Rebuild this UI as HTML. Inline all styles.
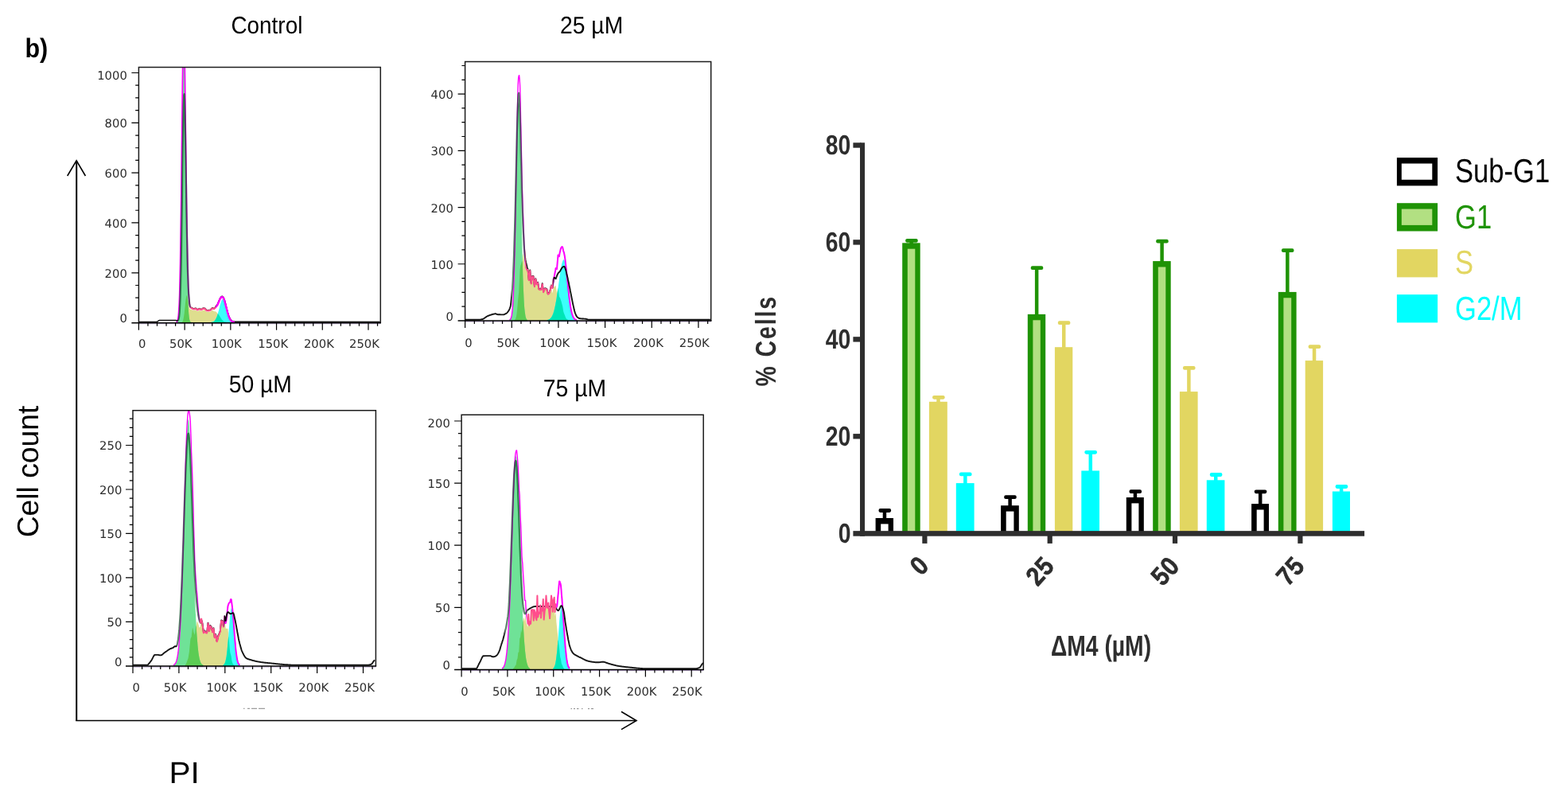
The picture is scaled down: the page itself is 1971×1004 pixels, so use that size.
<!DOCTYPE html>
<html lang="en"><head><meta charset="utf-8"><title>Cell cycle analysis</title>
<style>
html,body{margin:0;padding:0;background:#fff;}
body{width:1971px;height:1004px;overflow:hidden;}
svg{display:block;}
</style></head><body>
<svg width="1971" height="1004" viewBox="0 0 1971 1004" text-rendering="geometricPrecision">
<rect width="1971" height="1004" fill="#fff"/>
<clipPath id="c1"><rect x="174.4" y="84.6" width="303.9" height="321.8"/></clipPath>
<clipPath id="s1"><rect x="239.62" y="84.6" width="31.75" height="320.4"/></clipPath>
<clipPath id="n1"><rect x="174.4" y="84.6" width="65.22" height="321.4"/><rect x="271.37" y="84.6" width="206.93" height="321.4"/></clipPath>
<g clip-path="url(#c1)">
<path d="M228.4 404.9L228.9 404.7L229.3 404.2L229.8 403.4L230.3 402L230.7 399.9L231.2 396.9L231.7 393.4L232.1 389.5L232.6 384.9L233 380.5L233.5 376.6L234 373.6L234.4 371.3L234.9 371.6L235.4 373.1L235.8 375.4L236.3 378L236.7 380.8L237.2 383L237.7 385L238.1 386.8L238.6 388L239 388.6L239.5 388.8L240 389L240.4 389.1L240.9 389.2L241.4 389.3L241.8 389.6L242.3 389.8L242.7 390L243.2 390.1L243.7 390.3L244.1 390.1L244.6 390L245 389.9L245.5 389.8L246 389.7L246.4 390L246.9 390.3L247.4 390.6L247.8 390.9L248.3 391.2L248.7 390.9L249.2 390.7L249.7 390.5L250.1 390.2L250.6 390L251.1 390.2L251.5 390.4L252 390.6L252.4 390.8L252.9 391L253.4 390.7L253.8 390.5L254.3 390.2L254.7 389.9L255.2 389.6L255.7 389.7L256.1 389.7L256.6 389.7L257.1 389.8L257.5 389.8L258 390.2L258.4 390.7L258.9 391.1L259.4 391.6L259.8 392L260.3 392L260.7 392L261.2 391.9L261.7 391.9L262.1 391.9L262.6 391.8L263.1 391.8L263.5 391.8L264 391.7L264.4 391.7L264.9 391.2L265.4 390.8L265.8 390.4L266.3 390L266.8 389.6L267.2 389.9L267.7 390.2L268.1 390.6L268.6 390.9L269.1 391.3L269.5 391.2L270 391.2L270.4 391.3L270.9 391.4L271.4 391.5L271.8 391.9L272.3 392.4L272.8 393L273.2 393.5L273.7 394.2L274.1 394.6L274.6 395.1L275.1 395.7L275.5 396.3L276 397L276.4 397.8L276.9 398.5L277.4 399.3L277.8 400L278.3 400.7L278.8 401.4L279.2 401.9L279.7 402.5L280.1 402.9L280.6 403.3L281.1 403.7L281.5 403.9L282 404.2L282.5 404.4L282.9 404.5L283.4 404.6L283.8 404.7L284.3 404.8L284.8 404.9 L284.76,406.2 L228.43,406.2 Z" fill="#dede8e"/>
<path d="M221.5 404.8L222 404.6L222.4 404.2L222.9 403.5L223.3 402.3L223.8 400.1L224.3 396.5L224.7 390.9L225.2 382.5L225.7 370.2L226.1 353.2L226.6 330.8L227 302.4L227.5 268.3L228 229.6L228.4 188L228.9 146.3L229.3 107.9L229.8 76.1L230.3 54.1L230.7 44.2L231.2 47.5L231.7 63.7L232.1 90.9L232.6 126.5L233 167L233.5 209L234 249.4L234.4 286L234.9 317.3L235.4 342.7L235.8 362.4L236.3 376.9L236.7 387.1L237.2 394L237.7 398.5L238.1 401.3L238.6 403L239 403.9L239.5 404.5L240 404.7L240.4 404.9 L240.43,406.2 L221.5,406.2 Z" fill="#6fe297"/>
<path d="M265.4 404.9L265.8 404.8L266.3 404.7L266.8 404.6L267.2 404.5L267.7 404.4L268.1 404.2L268.6 403.9L269.1 403.6L269.5 403.2L270 402.7L270.4 402.1L270.9 401.4L271.4 400.6L271.8 399.7L272.3 398.6L272.8 397.4L273.2 396.1L273.7 394.6L274.1 393L274.6 391.3L275.1 389.5L275.5 387.7L276 385.9L276.4 384.1L276.9 382.4L277.4 380.8L277.8 379.4L278.3 378.1L278.8 377.1L279.2 376.4L279.7 375.9L280.1 375.8L280.6 375.9L281.1 376.4L281.5 377.1L282 378.1L282.5 379.4L282.9 380.8L283.4 382.4L283.8 384.1L284.3 385.9L284.8 387.7L285.2 389.5L285.7 391.3L286.1 393L286.6 394.6L287.1 396.1L287.5 397.4L288 398.6L288.5 399.7L288.9 400.6L289.4 401.4L289.8 402.1L290.3 402.7L290.8 403.2L291.2 403.6L291.7 403.9L292.1 404.2L292.6 404.4L293.1 404.5L293.5 404.6L294 404.7L294.5 404.8L294.9 404.9 L294.92,406.2 L265.37,406.2 Z" fill="#3cfffb"/>
<path d="M228.4 404.9L228.9 404.7L229.3 404.2L229.8 403.4L230.3 402L230.7 399.9L231.2 396.9L231.7 393.4L232.1 389.5L232.6 384.9L233 380.5L233.5 376.6L234 373.6L234.4 371.3L234.9 371.6L235.4 373.1L235.8 375.4L236.3 378L236.7 387.1L237.2 394L237.7 398.5L238.1 401.3L238.6 403L239 403.9L239.5 404.5L240 404.7L240.4 404.9 L240.43,406.2 L228.43,406.2 Z" fill="#5ccc54"/>
<path d="M265.4 404.9L265.8 404.8L266.3 404.7L266.8 404.6L267.2 404.5L267.7 404.4L268.1 404.2L268.6 403.9L269.1 403.6L269.5 403.2L270 402.7L270.4 402.1L270.9 401.4L271.4 400.6L271.8 399.7L272.3 398.6L272.8 397.4L273.2 396.1L273.7 394.6L274.1 394.6L274.6 395.1L275.1 395.7L275.5 396.3L276 397L276.4 397.8L276.9 398.5L277.4 399.3L277.8 400L278.3 400.7L278.8 401.4L279.2 401.9L279.7 402.5L280.1 402.9L280.6 403.3L281.1 403.7L281.5 403.9L282 404.2L282.5 404.4L282.9 404.5L283.4 404.6L283.8 404.7L284.3 404.8L284.8 404.9 L284.76,406.2 L265.37,406.2 Z" fill="#00e6b6"/>
<clipPath id="a1"><rect x="174.4" y="84.6" width="65.22" height="321.8"/></clipPath>
<clipPath id="b1"><rect x="271.37" y="84.6" width="206.93" height="321.8"/></clipPath>
<clipPath id="l1"><rect x="174.4" y="84.6" width="49.97" height="321.8"/></clipPath>
<clipPath id="g1"><rect x="224.37" y="84.6" width="15.26" height="321.8"/></clipPath>
<path d="M236.7 362.5L237.2 370.7L237.7 376.7L238.1 381L238.6 383.6L239 384.9L239.5 385.7L240 386.1L240.4 386.4L240.9 386.6L241.4 386.8L241.8 387.1L242.3 387.3L242.7 387.5L243.2 387.7L243.7 387.8L244.1 387.7L244.6 387.6L245 387.4L245.5 387.3L246 387.2L246.4 387.5L246.9 387.9L247.4 388.2L247.8 388.5L248.3 388.9L248.7 388.6L249.2 388.3L249.7 388.1L250.1 387.8L250.6 387.6L251.1 387.8L251.5 388L252 388.2L252.4 388.5L252.9 388.7L253.4 388.4L253.8 388.1L254.3 387.8L254.7 387.5L255.2 387.1L255.7 387.2L256.1 387.2L256.6 387.2L257.1 387.3L257.5 387.3L258 387.8L258.4 388.3L258.9 388.8L259.4 389.3L259.8 389.8L260.3 389.8L260.7 389.7L261.2 389.7L261.7 389.7L262.1 389.7L262.6 389.6L263.1 389.5L263.5 389.5L264 389.4L264.4 389.4L264.9 388.9L265.4 388.3L265.8 387.8L266.3 387.3L266.8 386.7L267.2 387L267.7 387.2L268.1 387.3L268.6 387.5L269.1 387.5L269.5 387.1L270 386.6L270.4 386.1L270.9 385.5L271.4 384.8L271.8 384.4L272.3 383.9L272.8 383.3L273.2 382.6L273.7 381.8L274.1 380.7" fill="none" stroke-linejoin="round" stroke="#000" stroke-width="1.5" stroke-opacity="0.9" clip-path="url(#s1)"/>
<path d="M221.5 404.8L222 404.6L222.4 404.2L222.9 403.5L223.3 402.3L223.8 400.1L224.3 396.5L224.7 390.9L225.2 382.5L225.7 370.2L226.1 353.2L226.6 330.8L227 302.4L227.5 268.3L228 229.5L228.4 187.9L228.9 146L229.3 107L229.8 74.3L230.3 50.7L230.7 38.5L231.2 38.5L231.7 50.7L232.1 73.6L232.6 104L233 139.5L233.5 177.2L234 214.3L234.4 248.3L234.9 279.9L235.4 307L235.8 329.2L236.3 346.6L236.7 360L237.2 369.4L237.7 376.2L238.1 380.9L238.6 384L239 385.6L239.5 386.3L240 386.8L240.4 387.1L240.9 387.3L241.4 387.4L241.8 387.7L242.3 388" fill="none" stroke-linejoin="round" stroke="#ff00ff" stroke-width="1.7" clip-path="url(#a1)"/>
<path d="M236.7 360L237.2 369.4L237.7 376.2L238.1 380.9L238.6 384L239 385.6L239.5 386.3L240 386.8L240.4 387.1L240.9 387.3L241.4 387.4L241.8 387.7L242.3 388L242.7 388.2L243.2 388.4L243.7 388.5L244.1 388.4L244.6 388.2L245 388.1L245.5 388L246 387.8L246.4 388.2L246.9 388.5L247.4 388.8L247.8 389.2L248.3 389.5L248.7 389.2L249.2 389L249.7 388.7L250.1 388.5L250.6 388.2L251.1 388.4L251.5 388.7L252 388.9L252.4 389.1L252.9 389.3L253.4 389L253.8 388.7L254.3 388.4L254.7 388.1L255.2 387.8L255.7 387.8L256.1 387.9L256.6 387.9L257.1 387.9L257.5 388L258 388.5L258.4 389L258.9 389.5L259.4 389.9L259.8 390.4L260.3 390.4L260.7 390.4L261.2 390.4L261.7 390.3L262.1 390.3L262.6 390.3L263.1 390.2L263.5 390.1L264 390.1L264.4 390L264.9 389.5L265.4 389L265.8 388.5L266.3 387.9L266.8 387.4L267.2 387.6L267.7 387.8L268.1 388L268.6 388.1L269.1 388.2L269.5 387.8L270 387.3L270.4 386.8L270.9 386.2L271.4 385.5L271.8 385L272.3 384.5L272.8 383.9L273.2 383.2L273.7 382.5L274.1 381.4" fill="none" stroke-linejoin="round" stroke="#ff4d8c" stroke-width="2.2" clip-path="url(#s1)"/>
<path d="M268.6 388.1L269.1 388.2L269.5 387.8L270 387.3L270.4 386.8L270.9 386.2L271.4 385.5L271.8 385L272.3 384.5L272.8 383.9L273.2 383.2L273.7 382.5L274.1 381.4L274.6 380.3L275.1 379.1L275.5 378L276 376.9L276.4 376L276.9 375.2L277.4 374.5L277.8 373.8L278.3 373.4L278.8 373.1L279.2 373L279.7 373.1L280.1 373.5L280.6 374.1L281.1 374.9L281.5 376L282 377.2L282.5 378.7L282.9 380.3L283.4 382L283.8 383.9L284.3 385.7L284.8 387.6L285.2 389.4L285.7 391.2L286.1 392.9L286.6 394.5L287.1 396L287.5 397.4L288 398.6L288.5 399.7L288.9 400.6L289.4 401.4L289.8 402.1L290.3 402.7L290.8 403.2L291.2 403.6L291.7 403.9L292.1 404.2L292.6 404.4L293.1 404.5L293.5 404.6L294 404.7L294.5 404.8L294.9 404.9" fill="none" stroke-linejoin="round" stroke="#ff00ff" stroke-width="2.2" clip-path="url(#b1)"/>
<path d="M174.4 404.4L197.5 404.4L197.9 404L198.4 403.6L198.9 403.3L199.3 403L199.8 402.7L200.3 402.6L220.6 402.6L221 402.6L221.5 402.7L222 402.8L222.4 402.9L222.9 403L223.3 402.9L223.8 402.6L224.3 401.8L224.7 400.3L225.2 397.5L225.7 392.6L226.1 385.1L226.6 374.1L227 358.8" fill="none" stroke-linejoin="round" stroke="#000" stroke-width="1.5" stroke-opacity="0.92" clip-path="url(#l1)"/>
<path d="M221.5 402.7L222 402.8L222.4 402.9L222.9 403L223.3 402.9L223.8 402.6L224.3 401.8L224.7 400.3L225.2 397.5L225.7 392.6L226.1 385.1L226.6 374.1L227 358.8L227.5 338.5L228 313.1L228.4 283.1L228.9 249.7L229.3 215.1L229.8 182L230.3 153.3L230.7 131.8L231.2 119.7L231.7 118.2L232.1 127.3L232.6 145.9L233 171.7L233.5 202L234 233.7L234.4 264.2L234.9 291.8L235.4 315.7L235.8 335.3L236.3 350.7L236.7 362.5L237.2 370.7L237.7 376.7L238.1 381L238.6 383.6L239 384.9L239.5 385.7L240 386.1L240.4 386.4L240.9 386.6L241.4 386.8L241.8 387.1L242.3 387.3" fill="none" stroke-linejoin="round" stroke="#00401a" stroke-width="2.3" stroke-opacity="0.62" clip-path="url(#g1)"/>
<path d="M268.6 387.5L269.1 387.5L269.5 387.1L270 386.6L270.4 386.1L270.9 385.5L271.4 384.8L271.8 384.4L272.3 383.9L272.8 383.3L273.2 382.6L273.7 381.8L274.1 380.7L274.6 379.6L275.1 378.5L275.5 377.4L276 376.3L276.4 375.4L276.9 374.6L277.4 373.8L277.8 373.2L278.3 372.7L278.8 372.4L279.2 372.3L279.7 372.5L280.1 372.8L280.6 373.4L281.1 374.2L281.5 375.3L282 376.6L282.5 378L282.9 379.6L283.4 381.4L283.8 383.2L284.3 385.1L284.8 386.9L285.2 388.8L285.7 390.6L286.1 392.3L286.6 393.9L287.1 395.4L287.5 396.7L288 398L288.5 399L288.9 400L289.4 400.8L289.8 401.5L290.3 402.1L290.8 402.5L291.2 402.9L291.7 403.3L292.1 403.5L292.6 403.7L293.1 403.9L293.5 404L294 404.1L294.5 404.2L294.9 404.2L295.4 404.3L295.8 404.3L296.3 404.3L296.8 404.3L297.7 404.3L477.8 404.4" fill="none" stroke-linejoin="round" stroke="#000" stroke-width="1.5" stroke-opacity="0.92" clip-path="url(#b1)"/>
<path d="M268.6 388.1L269.1 388.2L269.5 387.8L270 387.3L270.4 386.8L270.9 386.2L271.4 385.5L271.8 385L272.3 384.5L272.8 383.9L273.2 383.2L273.7 382.5L274.1 381.4L274.6 380.3L275.1 379.1L275.5 378L276 376.9L276.4 376L276.9 375.2L277.4 374.5L277.8 373.8L278.3 373.4L278.8 373.1L279.2 373L279.7 373.1L280.1 373.5L280.6 374.1L281.1 374.9L281.5 376L282 377.2L282.5 378.7L282.9 380.3L283.4 382L283.8 383.9L284.3 385.7L284.8 387.6L285.2 389.4L285.7 391.2L286.1 392.9L286.6 394.5L287.1 396L287.5 397.4L288 398.6L288.5 399.7L288.9 400.6L289.4 401.4L289.8 402.1L290.3 402.7L290.8 403.2L291.2 403.6L291.7 403.9L292.1 404.2L292.6 404.4L293.1 404.5L293.5 404.6L294 404.7L294.5 404.8L294.9 404.9" fill="none" stroke-linejoin="round" stroke="#ff00ff" stroke-width="2.2" clip-path="url(#b1)"/>
</g>
<path d="M174.4,406 L174.4,84.6 L478.3,84.6 L478.3,406" fill="none" stroke="#1c1c1c" stroke-width="1.5"/>
<line x1="174.4" y1="406.75" x2="478.3" y2="406.75" stroke="#6a3fa0" stroke-opacity="0.5" stroke-width="0.9"/>
<line x1="165.4" y1="405.7" x2="479" y2="405.7" stroke="#000" stroke-width="1.5"/>
<path d="M174.4,405.7 v9.0 M185.94,405.7 v4.0 M197.49,405.7 v4.0 M209.03,405.7 v4.0 M220.58,405.7 v4.0 M232.12,405.7 v9.0 M243.66,405.7 v4.0 M255.21,405.7 v4.0 M266.75,405.7 v4.0 M278.3,405.7 v4.0 M289.84,405.7 v9.0 M301.38,405.7 v4.0 M312.93,405.7 v4.0 M324.47,405.7 v4.0 M336.02,405.7 v4.0 M347.56,405.7 v9.0 M359.1,405.7 v4.0 M370.65,405.7 v4.0 M382.19,405.7 v4.0 M393.74,405.7 v4.0 M405.28,405.7 v9.0 M416.82,405.7 v4.0 M428.37,405.7 v4.0 M439.91,405.7 v4.0 M451.46,405.7 v4.0 M463,405.7 v9.0 M474.54,405.7 v4.0 M174.4,389.9 h-4.2 M174.4,374.19 h-4.2 M174.4,358.49 h-4.2 M174.4,342.78 h-9 M174.4,327.08 h-4.2 M174.4,311.37 h-4.2 M174.4,295.67 h-4.2 M174.4,279.96 h-9 M174.4,264.25 h-4.2 M174.4,248.55 h-4.2 M174.4,232.84 h-4.2 M174.4,217.14 h-9 M174.4,201.44 h-4.2 M174.4,185.73 h-4.2 M174.4,170.03 h-4.2 M174.4,154.32 h-9 M174.4,138.61 h-4.2 M174.4,122.91 h-4.2 M174.4,107.21 h-4.2 M174.4,91.5 h-9 " fill="none" stroke="#000" stroke-width="1.2"/>
<text transform="translate(178.6 437) scale(1.055 1.045)" font-family="'DejaVu Sans', 'Liberation Sans', sans-serif" font-size="14" font-weight="normal" fill="#2c2c2c" text-anchor="middle">0</text>
<text transform="translate(227.3 437) scale(1.055 1.045)" font-family="'DejaVu Sans', 'Liberation Sans', sans-serif" font-size="14" font-weight="normal" fill="#2c2c2c" text-anchor="middle">50K</text>
<text transform="translate(284.8 437) scale(1.055 1.045)" font-family="'DejaVu Sans', 'Liberation Sans', sans-serif" font-size="14" font-weight="normal" fill="#2c2c2c" text-anchor="middle">100K</text>
<text transform="translate(343.2 437) scale(1.055 1.045)" font-family="'DejaVu Sans', 'Liberation Sans', sans-serif" font-size="14" font-weight="normal" fill="#2c2c2c" text-anchor="middle">150K</text>
<text transform="translate(400.9 437) scale(1.055 1.045)" font-family="'DejaVu Sans', 'Liberation Sans', sans-serif" font-size="14" font-weight="normal" fill="#2c2c2c" text-anchor="middle">200K</text>
<text transform="translate(458 437) scale(1.055 1.045)" font-family="'DejaVu Sans', 'Liberation Sans', sans-serif" font-size="14" font-weight="normal" fill="#2c2c2c" text-anchor="middle">250K</text>
<text transform="translate(159.8 405.45) scale(1.055 1.045)" font-family="'DejaVu Sans', 'Liberation Sans', sans-serif" font-size="14" font-weight="normal" fill="#2c2c2c" text-anchor="end">0</text>
<text transform="translate(159.8 348.73) scale(1.055 1.045)" font-family="'DejaVu Sans', 'Liberation Sans', sans-serif" font-size="14" font-weight="normal" fill="#2c2c2c" text-anchor="end">200</text>
<text transform="translate(159.8 285.91) scale(1.055 1.045)" font-family="'DejaVu Sans', 'Liberation Sans', sans-serif" font-size="14" font-weight="normal" fill="#2c2c2c" text-anchor="end">400</text>
<text transform="translate(159.8 223.09) scale(1.055 1.045)" font-family="'DejaVu Sans', 'Liberation Sans', sans-serif" font-size="14" font-weight="normal" fill="#2c2c2c" text-anchor="end">600</text>
<text transform="translate(159.8 160.27) scale(1.055 1.045)" font-family="'DejaVu Sans', 'Liberation Sans', sans-serif" font-size="14" font-weight="normal" fill="#2c2c2c" text-anchor="end">800</text>
<text transform="translate(159.8 100.25) scale(1.055 1.045)" font-family="'DejaVu Sans', 'Liberation Sans', sans-serif" font-size="14" font-weight="normal" fill="#2c2c2c" text-anchor="end">1000</text>
<clipPath id="c2"><rect x="584.6" y="77.5" width="309.1" height="326.3"/></clipPath>
<clipPath id="s2"><rect x="660.16" y="77.5" width="35.31" height="324.9"/></clipPath>
<clipPath id="n2"><rect x="584.6" y="77.5" width="75.56" height="325.9"/><rect x="695.47" y="77.5" width="198.23" height="325.9"/></clipPath>
<g clip-path="url(#c2)">
<path d="M646.5 402.1L647 401.9L647.5 401.4L648 400.8L648.4 399.6L648.9 397.9L649.4 395.3L649.8 391.8L650.3 387.1L650.8 381.1L651.2 376.3L651.7 371.5L652.2 367.3L652.6 358.1L653.1 348.4L653.6 338.6L654.1 335.2L654.5 333.1L655 332.2L655.5 330.1L655.9 328.8L656.4 328.1L656.9 324.2L657.3 321L657.8 318.4L658.3 322.3L658.7 326.3L659.2 330.4L659.7 333.4L660.2 336.2L660.6 339L661.1 339.5L661.6 339.9L662 340.1L662.5 339.7L663 339.5L663.4 339.2L663.9 343.7L664.4 348L664.8 352.3L665.3 348.1L665.8 344.1L666.3 340.2L666.7 345.8L667.2 351.2L667.7 356.5L668.1 353.5L668.6 350.5L669.1 347.5L669.5 347.6L670 347.6L670.5 347.6L670.9 351.9L671.4 356.1L671.9 360.2L672.4 357L672.8 353.8L673.3 350.7L673.8 352.9L674.2 355.1L674.7 357.3L675.2 356.6L675.6 356L676.1 355.4L676.6 358.2L677 360.9L677.5 363.6L678 363.8L678.5 364L678.9 364.2L679.4 364.1L679.9 364L680.3 364L680.8 361.5L681.3 359.2L681.7 356.9L682.2 360.4L682.7 363.9L683.1 367.2L683.6 365.8L684.1 364.5L684.6 363.1L685 363.1L685.5 363.1L686 363.1L686.4 363.5L686.9 363.9L687.4 364.2L687.8 366.4L688.3 368.4L688.8 370.4L689.2 370.3L689.7 370.2L690.2 369.9L690.7 369L691.1 368L691.6 366.9L692.1 365.5L692.5 364.1L693 362.7L693.5 364.5L693.9 366.4L694.4 368.4L694.9 365.9L695.4 363.4L695.8 360.9L696.3 360.5L696.8 360.2L697.2 359.9L697.7 359.5L698.2 359.3L698.6 359.1L699.1 362.2L699.6 365.4L700 368.7L700.5 365.9L701 363.2L701.5 360.9L701.9 364.9L702.4 368.8L702.9 372.8L703.3 373.3L703.8 374.1L704.3 375.1L704.7 376.3L705.2 377.7L705.7 379.3L706.1 380.9L706.6 382.7L707.1 384.5L707.6 387.5L708 390.2L708.5 392.6L709 393.7L709.4 394.8L709.9 395.9L710.4 397.3L710.8 398.5L711.3 399.5L711.8 400.2L712.2 400.8L712.7 401.2L713.2 401.5L713.7 401.8L714.1 401.9L714.6 402.1 L714.59,403.6 L646.54,403.6 Z" fill="#dede8e"/>
<path d="M640.4 402L640.9 401.8L641.4 401.4L641.9 400.7L642.3 399.7L642.8 398.1L643.3 395.9L643.7 392.7L644.2 388.2L644.7 382.2L645.1 374.2L645.6 363.9L646.1 351L646.5 335.4L647 317.1L647.5 296.2L648 273.1L648.4 248.6L648.9 223.6L649.4 199.1L649.8 176.5L650.3 157.1L650.8 141.9L651.2 132.1L651.7 128.2L652.2 130.6L652.6 138.9L653.1 152.8L653.6 171.3L654.1 193.2L654.5 217.3L655 242.4L655.5 267.1L655.9 290.6L656.4 312.1L656.9 331.1L657.3 347.4L657.8 360.9L658.3 371.8L658.7 380.4L659.2 386.9L659.7 391.7L660.2 395.2L660.6 397.7L661.1 399.4L661.6 400.5L662 401.2L662.5 401.7L663 402 L662.97,403.6 L640.44,403.6 Z" fill="#6fe297"/>
<path d="M687.8 402L688.3 401.9L688.8 401.8L689.2 401.7L689.7 401.5L690.2 401.3L690.7 401L691.1 400.7L691.6 400.3L692.1 399.9L692.5 399.3L693 398.7L693.5 398L693.9 397.2L694.4 396.2L694.9 395.1L695.4 393.9L695.8 392.5L696.3 390.9L696.8 389.1L697.2 387.2L697.7 385.1L698.2 382.8L698.6 380.3L699.1 377.7L699.6 374.8L700 371.8L700.5 368.7L701 365.5L701.5 362.1L701.9 358.7L702.4 355.3L702.9 351.9L703.3 348.5L703.8 345.3L704.3 342.1L704.7 339.2L705.2 336.4L705.7 333.9L706.1 331.7L706.6 329.9L707.1 328.4L707.6 327.2L708 326.5L708.5 326.2L709 326.4L709.4 327.2L709.9 328.8L710.4 330.9L710.8 333.6L711.3 336.8L711.8 340.4L712.2 344.4L712.7 348.5L713.2 352.9L713.7 357.3L714.1 361.7L714.6 365.9L715.1 370.1L715.5 374L716 377.7L716.5 381L716.9 384.1L717.4 386.9L717.9 389.4L718.3 391.6L718.8 393.5L719.3 395.1L719.8 396.5L720.2 397.7L720.7 398.6L721.2 399.4L721.6 400.1L722.1 400.6L722.6 401L723 401.4L723.5 401.6L724 401.8L724.4 402L724.9 402.1 L724.91,403.6 L687.84,403.6 Z" fill="#3cfffb"/>
<path d="M646.5 402.1L647 401.9L647.5 401.4L648 400.8L648.4 399.6L648.9 397.9L649.4 395.3L649.8 391.8L650.3 387.1L650.8 381.1L651.2 376.3L651.7 371.5L652.2 367.3L652.6 358.1L653.1 348.4L653.6 338.6L654.1 335.2L654.5 333.1L655 332.2L655.5 330.1L655.9 328.8L656.4 328.1L656.9 331.1L657.3 347.4L657.8 360.9L658.3 371.8L658.7 380.4L659.2 386.9L659.7 391.7L660.2 395.2L660.6 397.7L661.1 399.4L661.6 400.5L662 401.2L662.5 401.7L663 402 L662.97,403.6 L646.54,403.6 Z" fill="#5ccc54"/>
<path d="M687.8 402L688.3 401.9L688.8 401.8L689.2 401.7L689.7 401.5L690.2 401.3L690.7 401L691.1 400.7L691.6 400.3L692.1 399.9L692.5 399.3L693 398.7L693.5 398L693.9 397.2L694.4 396.2L694.9 395.1L695.4 393.9L695.8 392.5L696.3 390.9L696.8 389.1L697.2 387.2L697.7 385.1L698.2 382.8L698.6 380.3L699.1 377.7L699.6 374.8L700 371.8L700.5 368.7L701 365.5L701.5 362.1L701.9 364.9L702.4 368.8L702.9 372.8L703.3 373.3L703.8 374.1L704.3 375.1L704.7 376.3L705.2 377.7L705.7 379.3L706.1 380.9L706.6 382.7L707.1 384.5L707.6 387.5L708 390.2L708.5 392.6L709 393.7L709.4 394.8L709.9 395.9L710.4 397.3L710.8 398.5L711.3 399.5L711.8 400.2L712.2 400.8L712.7 401.2L713.2 401.5L713.7 401.8L714.1 401.9L714.6 402.1 L714.59,403.6 L687.84,403.6 Z" fill="#00e6b6"/>
<clipPath id="a2"><rect x="584.6" y="77.5" width="75.56" height="326.3"/></clipPath>
<clipPath id="b2"><rect x="695.47" y="77.5" width="198.23" height="326.3"/></clipPath>
<clipPath id="l2"><rect x="584.6" y="77.5" width="58.77" height="326.3"/></clipPath>
<clipPath id="g2"><rect x="643.37" y="77.5" width="16.79" height="326.3"/></clipPath>
<path d="M657.3 280.7L657.8 290.8L658.3 299.5L658.7 308L659.2 314.5L659.7 319.8L660.2 324L660.6 327L661.1 329.5L661.6 331.4L662 333.1L662.5 335.5L663 337.1L663.4 338L663.9 342.1L664.4 347.3L664.8 351.6L665.3 347.5L665.8 343.5L666.3 339.5L666.7 345.1L667.2 350.6L667.7 355.9L668.1 352.8L668.6 349.8L669.1 346.9L669.5 346.9L670 347L670.5 347L670.9 351.3L671.4 355.4L671.9 359.5L672.4 356.3L672.8 353.2L673.3 350.1L673.8 352.3L674.2 354.5L674.7 356.6L675.2 356L675.6 355.4L676.1 354.8L676.6 357.5L677 360.3L677.5 363L678 363.2L678.5 363.3L678.9 363.6L679.4 363.4L679.9 363.4L680.3 363.3L680.8 360.9L681.3 358.5L681.7 356.2L682.2 359.8L682.7 363.2L683.1 366.5L683.6 365.1L684.1 363.8L684.6 362.4L685 362.4L685.5 362.4L686 362.3L686.4 362.7L686.9 363L687.4 363.3L687.8 365.4L688.3 367.3L688.8 369.2L689.2 369L689.7 368.6L690.2 368.1L690.7 366.9L691.1 365.6L691.6 364.2L692.1 362.4L692.5 360.4L693 358.4L693.5 359.4L693.9 360.5L694.4 361.6L694.9 357.9L695.4 354.2L695.8 350.3L696.3 349.1L696.8 348.8L697.2 348.9L697.7 349.4L698.2 350.3" fill="none" stroke-linejoin="round" stroke="#000" stroke-width="1.9" stroke-opacity="0.9" clip-path="url(#s2)"/>
<path d="M640.4 402L640.9 401.8L641.4 401.4L641.9 400.7L642.3 399.7L642.8 398.1L643.3 395.9L643.7 392.7L644.2 388.2L644.7 382.1L645.1 374.1L645.6 363.8L646.1 350.9L646.5 335.2L647 316.6L647.5 295.2L648 271.5L648.4 245.8L648.9 219L649.4 192L649.8 165.9L650.3 141.7L650.8 120.7L651.2 106L651.7 97.4L652.2 95.4L652.6 94.7L653.1 98.8L653.6 107.5L654.1 126L654.5 148L655 172.2L655.5 194.8L655.9 217L656.4 237.8L656.9 252.9L657.3 266L657.8 276.9L658.3 291.7L658.7 304.3L659.2 314.9L659.7 322.7L660.2 329L660.6 334.2L661.1 336.5L661.6 338L662 338.9L662.5 339L663 339" fill="none" stroke-linejoin="round" stroke="#ff00ff" stroke-width="1.4" clip-path="url(#a2)"/>
<path d="M657.3 266L657.8 276.9L658.3 291.7L658.7 304.3L659.2 314.9L659.7 322.7L660.2 329L660.6 334.2L661.1 336.5L661.6 338L662 338.9L662.5 339L663 339L663.4 338.9L663.9 343.5L664.4 348L664.8 352.2L665.3 348.1L665.8 344.1L666.3 340.2L666.7 345.8L667.2 351.2L667.7 356.5L668.1 353.5L668.6 350.5L669.1 347.5L669.5 347.6L670 347.6L670.5 347.6L670.9 351.9L671.4 356.1L671.9 360.2L672.4 357L672.8 353.8L673.3 350.7L673.8 352.9L674.2 355.1L674.7 357.3L675.2 356.6L675.6 356L676.1 355.4L676.6 358.2L677 360.9L677.5 363.6L678 363.8L678.5 364L678.9 364.2L679.4 364.1L679.9 364L680.3 364L680.8 361.5L681.3 359.2L681.7 356.9L682.2 360.4L682.7 363.9L683.1 367.2L683.6 365.8L684.1 364.4L684.6 363.1L685 363.1L685.5 363L686 363L686.4 363.4L686.9 363.7L687.4 363.9L687.8 366L688.3 368L688.8 369.8L689.2 369.6L689.7 369.3L690.2 368.8L690.7 367.6L691.1 366.3L691.6 364.9L692.1 363L692.5 361.1L693 359L693.5 360.1L693.9 361.2L694.4 362.2L694.9 358.6L695.4 354.9L695.8 350.9L696.3 349L696.8 346.9L697.2 344.7L697.7 342.3L698.2 339.7" fill="none" stroke-linejoin="round" stroke="#ff4d8c" stroke-width="2.0" clip-path="url(#s2)"/>
<path d="M692.5 361.1L693 359L693.5 360.1L693.9 361.2L694.4 362.2L694.9 358.6L695.4 354.9L695.8 350.9L696.3 349L696.8 346.9L697.2 344.7L697.7 342.3L698.2 339.7L698.6 337L699.1 337.5L699.6 337.9L700 338.1L700.5 332.2L701 326.3L701.5 320.6L701.9 321.2L702.4 321.7L702.9 322.3L703.3 319.5L703.8 317L704.3 314.9L704.7 313.1L705.2 311.7L705.7 310.8L706.1 310.2L706.6 310.1L707.1 310.5L707.6 312.4L708 314.4L708.5 316.4L709 317.7L709.4 319.7L709.9 322.3L710.4 325.8L710.8 329.7L711.3 333.9L711.8 338.2L712.2 342.7L712.7 347.4L713.2 352L713.7 356.6L714.1 361.2L714.6 365.6L715.1 369.9L715.5 373.8L716 377.6L716.5 381L716.9 384.1L717.4 386.9L717.9 389.4L718.3 391.6L718.8 393.5L719.3 395.1L719.8 396.5L720.2 397.7L720.7 398.6L721.2 399.4L721.6 400.1L722.1 400.6L722.6 401L723 401.4L723.5 401.6L724 401.8L724.4 402L724.9 402.1" fill="none" stroke-linejoin="round" stroke="#ff00ff" stroke-width="2.0" clip-path="url(#b2)"/>
<path d="M584.6 401.8L602.4 401.7L602.9 401.7L603.4 401.7L603.8 401.6L604.3 401.5L604.8 401.4L605.2 401.3L605.7 401.2L606.2 401.1L606.7 401L607.1 400.8L607.6 400.6L608.1 400.3L608.5 400L609 399.7L609.5 399.4L609.9 399.1L610.4 398.7L610.9 398.4L611.3 398.1L611.8 397.8L612.3 397.5L612.8 397.2L613.2 397L613.7 396.8L614.2 396.6L614.6 396.4L615.1 396.3L615.6 396.1L616 395.9L616.5 395.8L617 395.6L617.4 395.5L617.9 395.3L618.4 395.2L618.9 395.1L619.3 394.9L619.8 394.8L620.3 394.7L620.7 394.6L621.2 394.5L621.7 394.4L622.1 394.3L622.6 394.3L623.1 394.3L623.6 394.4L624 394.6L624.5 394.8L625 395L625.4 395.1L625.9 395.2L626.4 395.2L626.8 395.3L627.3 395.3L627.8 395.3L628.2 395.3L628.7 395.3L629.2 395.4L629.7 395.4L630.1 395.4L631.1 395.4L632.5 395.4L632.9 395.4L633.4 395.3L633.9 395.1L634.3 394.9L634.8 394.7L635.3 394.4L635.8 394.2L636.2 393.9L636.7 393.6L637.2 393.2L637.6 392.8L638.1 392.2L638.6 391.7L639 391L639.5 390.3L640 389.5L640.4 388.5L640.9 387.3L641.4 385.8L641.9 383.7L642.3 380.6L642.8 375.6L643.3 370.3L643.7 365.6L644.2 359.8L644.7 352.4L645.1 343.4L645.6 332.6L646.1 319.9" fill="none" stroke-linejoin="round" stroke="#000" stroke-width="1.9" stroke-opacity="0.92" clip-path="url(#l2)"/>
<path d="M640.4 388.5L640.9 387.3L641.4 385.8L641.9 383.7L642.3 380.6L642.8 375.6L643.3 370.3L643.7 365.6L644.2 359.8L644.7 352.4L645.1 343.4L645.6 332.6L646.1 319.9L646.5 305.4L647 289.1L647.5 271.2L648 252L648.4 231.3L648.9 209.6L649.4 188.1L649.8 168L650.3 150.7L650.8 136.4L651.2 125.5L651.7 118.6L652.2 116.9L652.6 121.2L653.1 130.7L653.6 144.3L654.1 161.1L654.5 179.9L655 199.9L655.5 219.8L655.9 238.1L656.4 254.5L656.9 268.7L657.3 280.7L657.8 290.8L658.3 299.5L658.7 308L659.2 314.5L659.7 319.8L660.2 324L660.6 327L661.1 329.5L661.6 331.4L662 333.1L662.5 335.5L663 337.1" fill="none" stroke-linejoin="round" stroke="#00401a" stroke-width="2.3" stroke-opacity="0.62" clip-path="url(#g2)"/>
<path d="M692.5 360.4L693 358.4L693.5 359.4L693.9 360.5L694.4 361.6L694.9 357.9L695.4 354.2L695.8 350.3L696.3 349.1L696.8 348.8L697.2 348.9L697.7 349.4L698.2 350.3L698.6 350.3L699.1 349L699.6 347.8L700 346.7L700.5 345.5L701 344.4L701.5 343.5L701.9 342.9L702.4 342.5L702.9 342.1L703.3 341.6L703.8 341L704.3 340.2L704.7 339.4L705.2 338.5L705.7 337.8L706.1 337L706.6 336.3L707.1 335.8L707.6 335.4L708 335.2L708.5 335L709 334.9L709.4 334.9L709.9 335.6L710.4 336.9L710.8 338.2L711.3 339.8L711.8 341.7L712.2 343.8L712.7 345.8L713.2 347.8L713.7 349.8L714.1 352L714.6 354.1L715.1 356.3L715.5 358.6L716 360.9L716.5 363.3L716.9 365.7L717.4 368.1L717.9 370.4L718.3 372.8L718.8 375.3L719.3 377.7L719.8 380.1L720.2 382.3L720.7 384.4L721.2 386.5L721.6 388.6L722.1 390.5L722.6 392.2L723 393.5L723.5 394.7L724 395.8L724.4 396.8L724.9 397.6L725.4 398.2L725.9 398.6L726.3 399L726.8 399.3L727.3 399.6L727.7 399.8L728.2 400L728.7 400.2L729.1 400.3L729.6 400.3L730.1 400.4L730.5 400.4L731 400.4L731.5 400.5L732 400.5L732.4 400.5L732.9 400.5L733.4 400.5L733.8 400.6L734.3 400.6L734.8 400.6L735.2 400.6L735.7 400.7L736.2 400.7L736.6 400.8L737.1 400.9L737.6 401.1L738.1 401.2L738.5 401.4L739 401.6L739.5 401.8L892.9 401.8" fill="none" stroke-linejoin="round" stroke="#000" stroke-width="1.9" stroke-opacity="0.92" clip-path="url(#b2)"/>
</g>
<path d="M584.6,403.4 L584.6,77.5 L893.7,77.5 L893.7,403.4" fill="none" stroke="#1c1c1c" stroke-width="1.5"/>
<line x1="584.6" y1="404.15" x2="893.7" y2="404.15" stroke="#6a3fa0" stroke-opacity="0.5" stroke-width="0.9"/>
<line x1="575.6" y1="403.1" x2="894.4" y2="403.1" stroke="#000" stroke-width="1.5"/>
<path d="M584.6,403.1 v9.0 M596.33,403.1 v4.0 M608.06,403.1 v4.0 M619.8,403.1 v4.0 M631.53,403.1 v4.0 M643.26,403.1 v9.0 M654.99,403.1 v4.0 M666.72,403.1 v4.0 M678.46,403.1 v4.0 M690.19,403.1 v4.0 M701.92,403.1 v9.0 M713.65,403.1 v4.0 M725.38,403.1 v4.0 M737.12,403.1 v4.0 M748.85,403.1 v4.0 M760.58,403.1 v9.0 M772.31,403.1 v4.0 M784.04,403.1 v4.0 M795.78,403.1 v4.0 M807.51,403.1 v4.0 M819.24,403.1 v9.0 M830.97,403.1 v4.0 M842.7,403.1 v4.0 M854.44,403.1 v4.0 M866.17,403.1 v4.0 M877.9,403.1 v9.0 M889.63,403.1 v4.0 M584.6,385.19 h-4.2 M584.6,367.39 h-4.2 M584.6,349.58 h-4.2 M584.6,331.77 h-9 M584.6,313.97 h-4.2 M584.6,296.16 h-4.2 M584.6,278.36 h-4.2 M584.6,260.55 h-9 M584.6,242.74 h-4.2 M584.6,224.94 h-4.2 M584.6,207.13 h-4.2 M584.6,189.32 h-9 M584.6,171.52 h-4.2 M584.6,153.71 h-4.2 M584.6,135.91 h-4.2 M584.6,118.1 h-9 M584.6,100.29 h-4.2 M584.6,82.49 h-4.2 " fill="none" stroke="#000" stroke-width="1.2"/>
<text transform="translate(589 435.6) scale(1.055 1.045)" font-family="'DejaVu Sans', 'Liberation Sans', sans-serif" font-size="14" font-weight="normal" fill="#2c2c2c" text-anchor="middle">0</text>
<text transform="translate(638.8 435.6) scale(1.055 1.045)" font-family="'DejaVu Sans', 'Liberation Sans', sans-serif" font-size="14" font-weight="normal" fill="#2c2c2c" text-anchor="middle">50K</text>
<text transform="translate(697.3 435.6) scale(1.055 1.045)" font-family="'DejaVu Sans', 'Liberation Sans', sans-serif" font-size="14" font-weight="normal" fill="#2c2c2c" text-anchor="middle">100K</text>
<text transform="translate(756.5 435.6) scale(1.055 1.045)" font-family="'DejaVu Sans', 'Liberation Sans', sans-serif" font-size="14" font-weight="normal" fill="#2c2c2c" text-anchor="middle">150K</text>
<text transform="translate(814.9 435.6) scale(1.055 1.045)" font-family="'DejaVu Sans', 'Liberation Sans', sans-serif" font-size="14" font-weight="normal" fill="#2c2c2c" text-anchor="middle">200K</text>
<text transform="translate(872.8 435.6) scale(1.055 1.045)" font-family="'DejaVu Sans', 'Liberation Sans', sans-serif" font-size="14" font-weight="normal" fill="#2c2c2c" text-anchor="middle">250K</text>
<text transform="translate(569.8 402.85) scale(1.055 1.045)" font-family="'DejaVu Sans', 'Liberation Sans', sans-serif" font-size="14" font-weight="normal" fill="#2c2c2c" text-anchor="end">0</text>
<text transform="translate(569.8 337.72) scale(1.055 1.045)" font-family="'DejaVu Sans', 'Liberation Sans', sans-serif" font-size="14" font-weight="normal" fill="#2c2c2c" text-anchor="end">100</text>
<text transform="translate(569.8 266.5) scale(1.055 1.045)" font-family="'DejaVu Sans', 'Liberation Sans', sans-serif" font-size="14" font-weight="normal" fill="#2c2c2c" text-anchor="end">200</text>
<text transform="translate(569.8 195.27) scale(1.055 1.045)" font-family="'DejaVu Sans', 'Liberation Sans', sans-serif" font-size="14" font-weight="normal" fill="#2c2c2c" text-anchor="end">300</text>
<text transform="translate(569.8 124.05) scale(1.055 1.045)" font-family="'DejaVu Sans', 'Liberation Sans', sans-serif" font-size="14" font-weight="normal" fill="#2c2c2c" text-anchor="end">400</text>
<clipPath id="c3"><rect x="167" y="515.8" width="305.4" height="321.9"/></clipPath>
<clipPath id="s3"><rect x="250.88" y="515.8" width="30.76" height="320.5"/></clipPath>
<clipPath id="n3"><rect x="167" y="515.8" width="83.88" height="321.5"/><rect x="281.64" y="515.8" width="190.76" height="321.5"/></clipPath>
<g clip-path="url(#c3)">
<path d="M232.8 835.6L233.2 835.1L233.7 834.4L234.2 833.5L234.6 832.4L235.1 831L235.6 829.8L236 828.5L236.5 827.4L236.9 824.9L237.4 822L237.9 818.9L238.3 814.3L238.8 809.2L239.3 803.7L239.7 802L240.2 800.9L240.6 800.4L241.1 796.3L241.6 792.3L242 788.5L242.5 790.1L243 792.1L243.4 794.3L243.9 795.5L244.4 796.7L244.8 797.9L245.3 794.6L245.7 791.2L246.2 787.6L246.7 786.1L247.1 784.3L247.6 781.1L248.1 781.2L248.5 781.7L249 783.3L249.4 784.4L249.9 786.3L250.4 788.6L250.8 788.4L251.3 788.1L251.8 787.6L252.2 784.8L252.7 782.3L253.2 779.8L253.6 782L254.1 783.8L254.5 785.4L255 789L255.5 792.3L255.9 795.7L256.4 794.9L256.9 794.1L257.3 793.3L257.8 794L258.3 794.6L258.7 795.3L259.2 795.4L259.6 795.5L260.1 795.6L260.6 791.5L261 787.4L261.5 783.3L262 786.5L262.4 789.8L262.9 793.1L263.3 790.9L263.8 788.7L264.3 786.6L264.7 787.1L265.2 787.7L265.7 788.4L266.1 790.2L266.6 792.3L267.1 794.6L267.5 792.8L268 791.2L268.4 789.7L268.9 793.7L269.4 797.5L269.8 801.3L270.3 800L270.8 798.9L271.2 797.9L271.7 801L272.1 803.8L272.6 806.3L273.1 805.2L273.5 803.2L274 800.4L274.5 799.4L274.9 798.3L275.4 797.5L275.9 796L276.3 794.8L276.8 793.7L277.2 789.2L277.7 784.7L278.2 780.1L278.6 780.3L279.1 780.6L279.6 781L280 783.4L280.5 785.8L280.9 788.4L281.4 784.6L281.9 780.9L282.3 777.3L282.8 781.3L283.3 785.5L283.7 789.9L284.2 789.7L284.7 789.7L285.1 790.2L285.6 789.6L286 789.7L286.5 790.6L287 795L287.4 799.6L287.9 804.4L288.4 810L288.8 815.2L289.3 819.8L289.7 821.3L290.2 823L290.7 825L291.1 828.4L291.6 830.9L292.1 832.8L292.5 833.8L293 834.6L293.5 835.2L293.9 835.5L294.4 835.8 L294.38,837.5 L232.77,837.5 Z" fill="#dede8e"/>
<path d="M218 835.7L218.4 835.5L218.9 835.3L219.3 834.9L219.8 834.4L220.3 833.8L220.7 833.1L221.2 832.1L221.7 830.9L222.1 829.4L222.6 827.5L223 825.3L223.5 822.5L224 819.2L224.4 815.2L224.9 810.6L225.4 805.1L225.8 798.8L226.3 791.6L226.8 783.3L227.2 774.1L227.7 763.7L228.1 752.3L228.6 739.9L229.1 726.5L229.5 712.1L230 697L230.5 681.2L230.9 665L231.4 648.5L231.8 632.1L232.3 615.9L232.8 600.2L233.2 585.4L233.7 571.7L234.2 559.4L234.6 548.8L235.1 540.1L235.6 533.4L236 529L236.5 526.9L236.9 527.2L237.4 529.9L237.9 534.9L238.3 542L238.8 551.3L239.3 562.4L239.7 575L240.2 589L240.6 604.1L241.1 619.9L241.6 636.2L242 652.7L242.5 669.1L243 685.2L243.4 700.8L243.9 715.8L244.4 729.9L244.8 743.1L245.3 755.3L245.7 766.4L246.2 776.5L246.7 785.5L247.1 793.5L247.6 800.5L248.1 806.6L248.5 811.8L249 816.3L249.4 820.1L249.9 823.2L250.4 825.9L250.8 828L251.3 829.8L251.8 831.2L252.2 832.4L252.7 833.3L253.2 834L253.6 834.6L254.1 835L254.5 835.3L255 835.6L255.5 835.8 L255.47,837.5 L217.95,837.5 Z" fill="#6fe297"/>
<path d="M280.5 835.8L280.9 835.5L281.4 835.1L281.9 834.5L282.3 833.8L282.8 832.7L283.3 831.3L283.7 829.5L284.2 827.2L284.7 824.4L285.1 820.9L285.6 816.9L286 812.3L286.5 807.1L287 801.5L287.4 795.6L287.9 789.5L288.4 783.6L288.8 778.1L289.3 773.2L289.7 769.2L290.2 766.2L290.7 764.6L291.1 764.2L291.6 765.2L292.1 767.6L292.5 771.1L293 775.6L293.5 780.8L293.9 786.6L294.4 792.6L294.8 798.6L295.3 804.3L295.8 809.8L296.2 814.7L296.7 819L297.2 822.7L297.6 825.8L298.1 828.4L298.5 830.4L299 832L299.5 833.3L299.9 834.2L300.4 834.8L300.9 835.3L301.3 835.7 L301.33,837.5 L280.48,837.5 Z" fill="#3cfffb"/>
<path d="M232.8 835.6L233.2 835.1L233.7 834.4L234.2 833.5L234.6 832.4L235.1 831L235.6 829.8L236 828.5L236.5 827.4L236.9 824.9L237.4 822L237.9 818.9L238.3 814.3L238.8 809.2L239.3 803.7L239.7 802L240.2 800.9L240.6 800.4L241.1 796.3L241.6 792.3L242 788.5L242.5 790.1L243 792.1L243.4 794.3L243.9 795.5L244.4 796.7L244.8 797.9L245.3 794.6L245.7 791.2L246.2 787.6L246.7 786.1L247.1 793.5L247.6 800.5L248.1 806.6L248.5 811.8L249 816.3L249.4 820.1L249.9 823.2L250.4 825.9L250.8 828L251.3 829.8L251.8 831.2L252.2 832.4L252.7 833.3L253.2 834L253.6 834.6L254.1 835L254.5 835.3L255 835.6L255.5 835.8 L255.47,837.5 L232.77,837.5 Z" fill="#5ccc54"/>
<path d="M280.5 835.8L280.9 835.5L281.4 835.1L281.9 834.5L282.3 833.8L282.8 832.7L283.3 831.3L283.7 829.5L284.2 827.2L284.7 824.4L285.1 820.9L285.6 816.9L286 812.3L286.5 807.1L287 801.5L287.4 799.6L287.9 804.4L288.4 810L288.8 815.2L289.3 819.8L289.7 821.3L290.2 823L290.7 825L291.1 828.4L291.6 830.9L292.1 832.8L292.5 833.8L293 834.6L293.5 835.2L293.9 835.5L294.4 835.8 L294.38,837.5 L280.48,837.5 Z" fill="#00e6b6"/>
<clipPath id="a3"><rect x="167" y="515.8" width="83.88" height="321.9"/></clipPath>
<clipPath id="b3"><rect x="281.64" y="515.8" width="190.76" height="321.9"/></clipPath>
<clipPath id="l3"><rect x="167" y="515.8" width="55.43" height="321.9"/></clipPath>
<clipPath id="g3"><rect x="222.43" y="515.8" width="28.45" height="321.9"/></clipPath>
<path d="M248.1 764.2L248.5 767.9L249 771.1L249.4 773.8L249.9 776.1L250.4 778.1L250.8 779.8L251.3 781.3L251.8 782.4L252.2 782.5L252.7 781.5L253.2 779.4L253.6 780.2L254.1 781.9L254.5 783.8L255 787.6L255.5 791.2L255.9 794.6L256.4 794L256.9 793.3L257.3 792.5L257.8 793.2L258.3 793.9L258.7 794.6L259.2 794.7L259.6 794.8L260.1 795L260.6 790.9L261 786.8L261.5 782.6L262 785.9L262.4 789.2L262.9 792.5L263.3 790.3L263.8 788.1L264.3 785.9L264.7 786.5L265.2 787.1L265.7 787.8L266.1 789.6L266.6 791.7L267.1 794L267.5 792.2L268 790.6L268.4 789.1L268.9 793L269.4 796.8L269.8 800.6L270.3 799.4L270.8 798.3L271.2 797.2L271.7 800.3L272.1 803.2L272.6 805.6L273.1 804.5L273.5 802.6L274 799.8L274.5 798.7L274.9 797.6L275.4 796.8L275.9 795.3L276.3 794.2L276.8 793.1L277.2 788.6L277.7 784L278.2 779.4L278.6 779.6L279.1 779.8L279.6 780.1L280 782.4L280.5 784.6L280.9 786.9L281.4 782.8L281.9 778.5L282.3 774.1L282.8 777.1L283.3 779.4L283.7 780L284.2 777" fill="none" stroke-linejoin="round" stroke="#000" stroke-width="1.9" stroke-opacity="0.9" clip-path="url(#s3)"/>
<path d="M218 835.7L218.4 835.5L218.9 835.3L219.3 834.9L219.8 834.4L220.3 833.8L220.7 833.1L221.2 832.1L221.7 830.9L222.1 829.4L222.6 827.5L223 825.3L223.5 822.5L224 819.2L224.4 815.2L224.9 810.6L225.4 805.1L225.8 798.8L226.3 791.6L226.8 783.3L227.2 774.1L227.7 763.7L228.1 752.3L228.6 739.9L229.1 726.5L229.5 712.1L230 697L230.5 681.2L230.9 664.9L231.4 648.4L231.8 631.8L232.3 615.4L232.8 599.5L233.2 584.2L233.7 569.8L234.2 556.7L234.6 544.9L235.1 534.7L235.6 526.9L236 521.2L236.5 518L236.9 515.8L237.4 515.6L237.9 517.4L238.3 520L238.8 524.1L239.3 529.7L239.7 540.7L240.2 553.6L240.6 568.2L241.1 579.9L241.6 592.2L242 604.9L242.5 622.9L243 641L243.4 658.9L243.9 675L244.4 690.3L244.8 704.7L245.3 713.6L245.7 721.3L246.2 727.8L246.7 735.3L247.1 741.4L247.6 745.3L248.1 751.4L248.5 757.2L249 763.3L249.4 768.2L249.9 773.3L250.4 778.2L250.8 780.1L251.3 781.6L251.8 782.5L252.2 780.9L252.7 779.3L253.2 777.6L253.6 780.2" fill="none" stroke-linejoin="round" stroke="#ff00ff" stroke-width="1.4" clip-path="url(#a3)"/>
<path d="M248.1 751.4L248.5 757.2L249 763.3L249.4 768.2L249.9 773.3L250.4 778.2L250.8 780.1L251.3 781.6L251.8 782.5L252.2 780.9L252.7 779.3L253.2 777.6L253.6 780.2L254.1 782.5L254.5 784.5L255 788.3L255.5 791.8L255.9 795.3L256.4 794.6L256.9 793.9L257.3 793.2L257.8 793.9L258.3 794.5L258.7 795.2L259.2 795.3L259.6 795.5L260.1 795.6L260.6 791.5L261 787.4L261.5 783.3L262 786.5L262.4 789.8L262.9 793.1L263.3 790.9L263.8 788.7L264.3 786.6L264.7 787.1L265.2 787.7L265.7 788.4L266.1 790.2L266.6 792.3L267.1 794.6L267.5 792.8L268 791.2L268.4 789.7L268.9 793.7L269.4 797.5L269.8 801.3L270.3 800L270.8 798.9L271.2 797.9L271.7 801L272.1 803.8L272.6 806.3L273.1 805.2L273.5 803.2L274 800.4L274.5 799.4L274.9 798.3L275.4 797.5L275.9 796L276.3 794.8L276.8 793.7L277.2 789.2L277.7 784.7L278.2 780.1L278.6 780.3L279.1 780.5L279.6 780.8L280 783L280.5 785.3L280.9 787.6L281.4 783.4L281.9 779.2L282.3 774.8L282.8 777.7L283.3 780.5L283.7 783.1L284.2 780.6" fill="none" stroke-linejoin="round" stroke="#ff4d8c" stroke-width="2.0" clip-path="url(#s3)"/>
<path d="M279.1 780.5L279.6 780.8L280 783L280.5 785.3L280.9 787.6L281.4 783.4L281.9 779.2L282.3 774.8L282.8 777.7L283.3 780.5L283.7 783.1L284.2 780.6L284.7 777.8L285.1 774.8L285.6 770.2L286 765.7L286.5 761.4L287 760.2L287.4 758.9L287.9 757.6L288.4 757.4L288.8 757L289.3 756.7L289.7 754.1L290.2 753L290.7 753.3L291.1 756.3L291.6 759.9L292.1 764.1L292.5 768.6L293 773.9L293.5 779.7L293.9 785.8L294.4 792.1L294.8 798.2L295.3 804.2L295.8 809.7L296.2 814.6L296.7 819L297.2 822.7L297.6 825.8L298.1 828.4L298.5 830.4L299 832L299.5 833.3L299.9 834.2L300.4 834.8L300.9 835.3L301.3 835.7" fill="none" stroke-linejoin="round" stroke="#ff00ff" stroke-width="2.0" clip-path="url(#b3)"/>
<path d="M167 835.6L185.5 835.6L186 835.2L186.5 834.7L186.9 834.2L187.4 833.6L187.8 833.1L188.3 832.5L188.8 831.9L189.2 831.3L189.7 830.7L190.2 830.1L190.6 829.4L191.1 828.5L191.5 827.6L192 826.7L192.5 825.7L192.9 824.8L193.4 824.1L193.9 823.4L194.3 823L194.8 822.9L198.5 822.9L199 822.9L199.4 823L199.9 823.1L200.4 823.2L200.8 823.3L201.3 823.4L201.7 823.4L202.2 823.4L202.7 823.3L203.1 823L203.6 822.8L204.1 822.4L204.5 822.1L205 821.7L205.4 821.2L205.9 820.8L206.4 820.4L206.8 820.1L207.3 819.7L207.8 819.4L208.2 819.1L208.7 818.8L209.2 818.5L209.6 818.1L210.1 817.8L210.5 817.5L211 817.1L211.5 816.8L211.9 816.5L212.4 816.2L212.9 815.9L213.3 815.7L213.8 815.4L214.2 815.2L214.7 815L215.2 814.9L215.6 814.7L216.1 814.5L216.6 814.4L217 814.1L217.5 813.9L218 813.6L218.4 813.2L218.9 812.8L219.3 812.3L219.8 812.1L220.3 812.2L220.7 812.3L221.2 812.4L221.7 812.2L222.1 811.5L222.6 810.3L223 808.4L223.5 806.1L224 803.1L224.4 799.6L224.9 795.3L225.4 790.2" fill="none" stroke-linejoin="round" stroke="#000" stroke-width="1.9" stroke-opacity="0.92" clip-path="url(#l3)"/>
<path d="M219.8 812.1L220.3 812.2L220.7 812.3L221.2 812.4L221.7 812.2L222.1 811.5L222.6 810.3L223 808.4L223.5 806.1L224 803.1L224.4 799.6L224.9 795.3L225.4 790.2L225.8 784.3L226.3 777.5L226.8 769.7L227.2 761L227.7 751.4L228.1 741L228.6 729.7L229.1 717.7L229.5 705L230 691.7L230.5 678L230.9 664.1L231.4 650L231.8 636L232.3 622.3L232.8 608.9L233.2 596.3L233.7 584.6L234.2 574L234.6 564.8L235.1 557.2L235.6 551.2L236 547.1L236.5 545L236.9 544.8L237.4 546.8L237.9 550.9L238.3 557L238.8 565L239.3 574.6L239.7 585.6L240.2 597.8L240.6 610.7L241.1 624.2L241.6 638L242 651.7L242.5 665.3L243 678.4L243.4 691L243.9 702.8L244.4 713.3L244.8 722.8L245.3 731.2L245.7 738.5L246.2 745L246.7 750.6L247.1 755.6L247.6 760.1L248.1 764.2L248.5 767.9L249 771.1L249.4 773.8L249.9 776.1L250.4 778.1L250.8 779.8L251.3 781.3L251.8 782.4L252.2 782.5L252.7 781.5L253.2 779.4L253.6 780.2" fill="none" stroke-linejoin="round" stroke="#00401a" stroke-width="2.3" stroke-opacity="0.62" clip-path="url(#g3)"/>
<path d="M279.1 779.8L279.6 780.1L280 782.4L280.5 784.6L280.9 786.9L281.4 782.8L281.9 778.5L282.3 774.1L282.8 777.1L283.3 779.4L283.7 780L284.2 777L284.7 774.3L285.1 772L285.6 770.5L286 769.5L286.5 769.1L287 769.2L287.4 769.5L287.9 769.9L288.4 770.4L288.8 770.9L289.3 771.2L289.7 771.3L290.2 771.2L290.7 771.1L291.1 770.9L291.6 770.6L292.1 770.4L292.5 770.2L293 770.2L293.5 770.7L293.9 772L294.4 773.9L294.8 776.1L295.3 778.3L295.8 780.3L296.2 782.6L296.7 785.1L297.2 787.7L297.6 790.3L298.1 792.9L298.5 795.3L299 797.8L299.5 800.3L299.9 802.7L300.4 805L300.9 806.9L301.3 808.8L301.8 810.6L302.3 812.3L302.7 813.9L303.2 815.4L303.6 816.8L304.1 818.1L304.6 819.2L305 820.2L305.5 821.1L306 822L306.4 822.9L306.9 823.7L307.3 824.5L307.8 825.2L308.3 825.8L308.7 826.3L309.2 826.8L309.7 827.1L310.1 827.4L310.6 827.6L311.1 827.9L311.5 828L312 828.2L312.4 828.4L312.9 828.5L313.4 828.6L313.8 828.8L314.3 828.9L314.8 829L315.2 829.2L315.7 829.3L316.2 829.4L316.6 829.6L317.1 829.7L317.5 829.8L318 830L318.5 830.1L318.9 830.2L319.4 830.3L319.9 830.4L320.3 830.6L320.8 830.7L321.2 830.8L321.7 830.9L322.2 831L322.6 831.1L323.1 831.2L323.6 831.3L324 831.4L324.5 831.4L325 831.5L325.4 831.6L325.9 831.7L326.3 831.8L326.8 831.8L327.3 831.9L327.7 832L328.2 832.1L328.7 832.1L329.1 832.2L329.6 832.3L330 832.3L330.5 832.4L331 832.4L331.4 832.5L331.9 832.5L332.4 832.6L332.8 832.7L333.3 832.7L333.8 832.8L334.2 832.8L334.7 832.8L335.1 832.9L335.6 832.9L336.1 833L336.5 833L337 833.1L337.5 833.1L337.9 833.2L338.4 833.2L338.8 833.2L339.3 833.3L339.8 833.3L340.2 833.4L340.7 833.4L341.2 833.5L341.6 833.5L342.1 833.6L342.6 833.6L343 833.7L343.5 833.7L343.9 833.8L344.4 833.8L344.9 833.9L345.3 833.9L345.8 834L346.3 834L346.7 834.1L347.2 834.1L347.6 834.2L348.1 834.2L348.6 834.3L349 834.3L349.5 834.4L350 834.4L350.4 834.5L350.9 834.5L351.4 834.5L351.8 834.6L352.3 834.6L352.7 834.7L353.2 834.7L353.7 834.8L354.1 834.8L354.6 834.8L355.1 834.9L355.5 834.9L356 835L356.4 835L356.9 835L357.4 835.1L357.8 835.1L358.3 835.1L358.8 835.1L359.2 835.2L359.7 835.2L360.2 835.2L360.6 835.3L361.1 835.3L361.5 835.3L362 835.4L362.5 835.4L362.9 835.4L363.4 835.4L363.9 835.5L364.3 835.5L364.8 835.5L365.2 835.5L365.7 835.6L366.2 835.6L366.6 835.6L367.1 835.6L367.6 835.6L368.5 835.6L462.5 835.6L463 835.6L463.4 835.6L463.9 835.5L464.4 835.4L464.8 835.3L465.3 835.1L465.8 835L466.2 834.8L466.7 834.6L467.2 834.4L467.6 834L468.1 833.3L468.5 832.6L469 831.9L469.5 831.1L469.9 830.5L470.4 830.1L470.9 829.8L471.3 829.5" fill="none" stroke-linejoin="round" stroke="#000" stroke-width="1.9" stroke-opacity="0.92" clip-path="url(#b3)"/>
</g>
<path d="M167,837.3 L167,515.8 L472.4,515.8 L472.4,837.3" fill="none" stroke="#1c1c1c" stroke-width="1.5"/>
<line x1="167" y1="838.05" x2="472.4" y2="838.05" stroke="#6a3fa0" stroke-opacity="0.5" stroke-width="0.9"/>
<line x1="158" y1="837" x2="473.1" y2="837" stroke="#000" stroke-width="1.5"/>
<path d="M167,837 v9.0 M178.58,837 v4.0 M190.16,837 v4.0 M201.74,837 v4.0 M213.32,837 v4.0 M224.9,837 v9.0 M236.48,837 v4.0 M248.06,837 v4.0 M259.64,837 v4.0 M271.22,837 v4.0 M282.8,837 v9.0 M294.38,837 v4.0 M305.96,837 v4.0 M317.54,837 v4.0 M329.12,837 v4.0 M340.7,837 v9.0 M352.28,837 v4.0 M363.86,837 v4.0 M375.44,837 v4.0 M387.02,837 v4.0 M398.6,837 v9.0 M410.18,837 v4.0 M421.76,837 v4.0 M433.34,837 v4.0 M444.92,837 v4.0 M456.5,837 v9.0 M468.08,837 v4.0 M167,825.8 h-4.2 M167,814.71 h-4.2 M167,803.61 h-4.2 M167,792.52 h-4.2 M167,781.42 h-9 M167,770.32 h-4.2 M167,759.23 h-4.2 M167,748.13 h-4.2 M167,737.04 h-4.2 M167,725.94 h-9 M167,714.84 h-4.2 M167,703.75 h-4.2 M167,692.65 h-4.2 M167,681.56 h-4.2 M167,670.46 h-9 M167,659.36 h-4.2 M167,648.27 h-4.2 M167,637.17 h-4.2 M167,626.08 h-4.2 M167,614.98 h-9 M167,603.88 h-4.2 M167,592.79 h-4.2 M167,581.69 h-4.2 M167,570.6 h-4.2 M167,559.5 h-9 M167,548.4 h-4.2 M167,537.31 h-4.2 M167,526.21 h-4.2 " fill="none" stroke="#000" stroke-width="1.2"/>
<text transform="translate(171.3 869.3) scale(1.055 1.045)" font-family="'DejaVu Sans', 'Liberation Sans', sans-serif" font-size="14" font-weight="normal" fill="#2c2c2c" text-anchor="middle">0</text>
<text transform="translate(220.1 869.3) scale(1.055 1.045)" font-family="'DejaVu Sans', 'Liberation Sans', sans-serif" font-size="14" font-weight="normal" fill="#2c2c2c" text-anchor="middle">50K</text>
<text transform="translate(278.4 869.3) scale(1.055 1.045)" font-family="'DejaVu Sans', 'Liberation Sans', sans-serif" font-size="14" font-weight="normal" fill="#2c2c2c" text-anchor="middle">100K</text>
<text transform="translate(336.6 869.3) scale(1.055 1.045)" font-family="'DejaVu Sans', 'Liberation Sans', sans-serif" font-size="14" font-weight="normal" fill="#2c2c2c" text-anchor="middle">150K</text>
<text transform="translate(394.3 869.3) scale(1.055 1.045)" font-family="'DejaVu Sans', 'Liberation Sans', sans-serif" font-size="14" font-weight="normal" fill="#2c2c2c" text-anchor="middle">200K</text>
<text transform="translate(452 869.3) scale(1.055 1.045)" font-family="'DejaVu Sans', 'Liberation Sans', sans-serif" font-size="14" font-weight="normal" fill="#2c2c2c" text-anchor="middle">250K</text>
<text transform="translate(153.3 836.75) scale(1.055 1.045)" font-family="'DejaVu Sans', 'Liberation Sans', sans-serif" font-size="14" font-weight="normal" fill="#2c2c2c" text-anchor="end">0</text>
<text transform="translate(153.3 787.37) scale(1.055 1.045)" font-family="'DejaVu Sans', 'Liberation Sans', sans-serif" font-size="14" font-weight="normal" fill="#2c2c2c" text-anchor="end">50</text>
<text transform="translate(153.3 731.89) scale(1.055 1.045)" font-family="'DejaVu Sans', 'Liberation Sans', sans-serif" font-size="14" font-weight="normal" fill="#2c2c2c" text-anchor="end">100</text>
<text transform="translate(153.3 676.41) scale(1.055 1.045)" font-family="'DejaVu Sans', 'Liberation Sans', sans-serif" font-size="14" font-weight="normal" fill="#2c2c2c" text-anchor="end">150</text>
<text transform="translate(153.3 620.93) scale(1.055 1.045)" font-family="'DejaVu Sans', 'Liberation Sans', sans-serif" font-size="14" font-weight="normal" fill="#2c2c2c" text-anchor="end">200</text>
<text transform="translate(153.3 565.45) scale(1.055 1.045)" font-family="'DejaVu Sans', 'Liberation Sans', sans-serif" font-size="14" font-weight="normal" fill="#2c2c2c" text-anchor="end">250</text>
<clipPath id="c4"><rect x="580.1" y="521.3" width="304.1" height="320.9"/></clipPath>
<clipPath id="s4"><rect x="662.51" y="521.3" width="36.7" height="319.5"/></clipPath>
<clipPath id="n4"><rect x="580.1" y="521.3" width="82.41" height="320.5"/><rect x="699.21" y="521.3" width="184.99" height="320.5"/></clipPath>
<g clip-path="url(#c4)">
<path d="M644.9 840.2L645.3 839.8L645.8 839.4L646.2 838.9L646.7 838.2L647.2 837.5L647.6 836.5L648.1 835.9L648.6 835.4L649 833.1L649.5 830L649.9 828.8L650.4 827.8L650.9 824.3L651.3 820.2L651.8 819.5L652.3 819.3L652.7 811.8L653.2 803L653.6 801.5L654.1 800.6L654.6 796.1L655 791.6L655.5 793.2L656 795.6L656.4 788.8L656.9 782L657.3 780.2L657.8 778.7L658.3 777.1L658.7 776L659.2 778.4L659.7 781.2L660.1 776.6L660.6 772.3L661 777.6L661.5 782.9L662 783.9L662.4 784.8L662.9 786.6L663.4 788.3L663.8 781.7L664.3 774.7L664.7 780.9L665.2 787.2L665.7 784.7L666.1 782.1L666.6 783.1L667.1 784.2L667.5 775.4L668 766.5L668.4 766.9L668.9 767.3L669.4 766.7L669.8 766L670.3 772.8L670.8 779.7L671.2 773.2L671.7 766.6L672.1 767.8L672.6 769.1L673.1 772.8L673.5 776.6L674 777.9L674.5 779.2L674.9 763.9L675.4 748.5L675.8 761.9L676.3 775.4L676.8 772.6L677.2 769.8L677.7 770.2L678.2 770.7L678.6 765.6L679.1 760.5L679.6 768.5L680 776.5L680.5 770.4L680.9 764.3L681.4 765.9L681.9 767.5L682.3 760.2L682.8 753L683.3 765.8L683.7 778.6L684.2 773.5L684.6 768.4L685.1 765.8L685.6 763.3L686 755.9L686.5 748.5L687 755.5L687.4 762.5L687.9 763.1L688.3 763.7L688.8 760.6L689.3 757.5L689.7 763.3L690.2 769L690.7 773.1L691.1 777.1L691.6 769.6L692 762L692.5 755.4L693 748.7L693.4 751.3L693.9 753.9L694.4 761.5L694.8 769.2L695.3 762.8L695.7 756.6L696.2 754.8L696.7 753.4L697.1 763.8L697.6 774.3L698.1 771.5L698.5 769.4L699 775.5L699.4 781.7L699.9 786.6L700.4 791.6L700.8 795.1L701.3 798.9L701.8 803.9L702.2 808.7L702.7 811.9L703.1 815.1L703.6 820.5L704.1 825.1L704.5 826.8L705 828.6L705.5 831.7L705.9 834.2L706.4 835L706.8 835.8L707.3 837.2L707.8 838.3L708.2 839.2L708.7 839.8L709.2 840 L709.15,842 L644.86,842 Z" fill="#dede8e"/>
<path d="M631 840L631.4 839.8L631.9 839.4L632.4 839L632.8 838.4L633.3 837.6L633.8 836.7L634.2 835.5L634.7 833.9L635.1 832.1L635.6 829.8L636.1 827.1L636.5 823.8L637 819.9L637.5 815.3L637.9 809.9L638.4 803.7L638.8 796.6L639.3 788.6L639.8 779.7L640.2 769.8L640.7 758.9L641.2 747.1L641.6 734.5L642.1 721.2L642.5 707.2L643 692.9L643.5 678.3L643.9 663.8L644.4 649.4L644.9 635.6L645.3 622.6L645.8 610.6L646.2 599.9L646.7 590.7L647.2 583.3L647.6 577.8L648.1 574.3L648.6 572.9L649 573.7L649.5 576.7L649.9 581.7L650.4 588.7L650.9 597.4L651.3 607.8L651.8 619.5L652.3 632.3L652.7 645.9L653.2 660.1L653.6 674.7L654.1 689.3L654.6 703.7L655 717.7L655.5 731.2L656 744L656.4 756L656.9 767.1L657.3 777.3L657.8 786.5L658.3 794.7L658.7 802L659.2 808.5L659.7 814L660.1 818.8L660.6 822.9L661 826.3L661.5 829.2L662 831.6L662.4 833.5L662.9 835.1L663.4 836.4L663.8 837.4L664.3 838.2L664.7 838.8L665.2 839.3L665.7 839.7L666.1 840 L666.14,842 L630.98,842 Z" fill="#6fe297"/>
<path d="M695.3 839.9L695.7 839.5L696.2 838.9L696.7 838.1L697.1 837.1L697.6 835.7L698.1 833.9L698.5 831.6L699 828.7L699.4 825.3L699.9 821.3L700.4 816.7L700.8 811.5L701.3 805.8L701.8 799.7L702.2 793.4L702.7 787.2L703.1 781.1L703.6 775.6L704.1 770.8L704.5 766.9L705 764.2L705.5 762.9L705.9 762.9L706.4 764.2L706.8 766.9L707.3 770.8L707.8 775.6L708.2 781.1L708.7 787.2L709.2 793.4L709.6 799.7L710.1 805.8L710.5 811.5L711 816.7L711.5 821.3L711.9 825.3L712.4 828.7L712.9 831.6L713.3 833.9L713.8 835.7L714.2 837.1L714.7 838.1L715.2 838.9L715.6 839.5L716.1 839.9 L716.09,842 L695.28,842 Z" fill="#3cfffb"/>
<path d="M644.9 840.2L645.3 839.8L645.8 839.4L646.2 838.9L646.7 838.2L647.2 837.5L647.6 836.5L648.1 835.9L648.6 835.4L649 833.1L649.5 830L649.9 828.8L650.4 827.8L650.9 824.3L651.3 820.2L651.8 819.5L652.3 819.3L652.7 811.8L653.2 803L653.6 801.5L654.1 800.6L654.6 796.1L655 791.6L655.5 793.2L656 795.6L656.4 788.8L656.9 782L657.3 780.2L657.8 786.5L658.3 794.7L658.7 802L659.2 808.5L659.7 814L660.1 818.8L660.6 822.9L661 826.3L661.5 829.2L662 831.6L662.4 833.5L662.9 835.1L663.4 836.4L663.8 837.4L664.3 838.2L664.7 838.8L665.2 839.3L665.7 839.7L666.1 840 L666.14,842 L644.86,842 Z" fill="#5ccc54"/>
<path d="M695.3 839.9L695.7 839.5L696.2 838.9L696.7 838.1L697.1 837.1L697.6 835.7L698.1 833.9L698.5 831.6L699 828.7L699.4 825.3L699.9 821.3L700.4 816.7L700.8 811.5L701.3 805.8L701.8 803.9L702.2 808.7L702.7 811.9L703.1 815.1L703.6 820.5L704.1 825.1L704.5 826.8L705 828.6L705.5 831.7L705.9 834.2L706.4 835L706.8 835.8L707.3 837.2L707.8 838.3L708.2 839.2L708.7 839.8L709.2 840 L709.15,842 L695.28,842 Z" fill="#00e6b6"/>
<clipPath id="a4"><rect x="580.1" y="521.3" width="82.41" height="320.9"/></clipPath>
<clipPath id="b4"><rect x="699.21" y="521.3" width="184.99" height="320.9"/></clipPath>
<clipPath id="l4"><rect x="580.1" y="521.3" width="54.62" height="320.9"/></clipPath>
<clipPath id="g4"><rect x="634.72" y="521.3" width="27.79" height="320.9"/></clipPath>
<path d="M659.7 771.1L660.1 771.3L660.6 771L661 770.3L661.5 769.4L662 768.4L662.4 767.4L662.9 766.7L663.4 766.3L663.8 766.1L664.3 765.8L664.7 765.5L665.2 765.2L665.7 764.9L666.1 764.6L666.6 764.3L667.1 764L667.5 763.8L668 763.5L668.4 763.3L668.9 763.1L669.4 762.9L669.8 762.7L670.3 762.5L670.8 762.4L671.2 762.2L671.7 762.1L672.1 762.1L672.6 762L690.7 762.1L691.1 762.1L691.6 762.1L692 762.1L692.5 762.2L693 762.2L693.4 762.3L693.9 762.4L694.4 762.4L694.8 762.5L695.3 762.6L695.7 762.7L696.2 762.8L696.7 762.9L697.1 763L697.6 763.1L698.1 763.4L698.5 763.8L699 764.4L699.4 765.1L699.9 765.7L700.4 766.3L700.8 766.8L701.3 767.1L701.8 767.2" fill="none" stroke-linejoin="round" stroke="#000" stroke-width="1.9" stroke-opacity="0.9" clip-path="url(#s4)"/>
<path d="M631 840L631.4 839.8L631.9 839.4L632.4 839L632.8 838.4L633.3 837.6L633.8 836.7L634.2 835.5L634.7 833.9L635.1 832.1L635.6 829.8L636.1 827.1L636.5 823.8L637 819.9L637.5 815.3L637.9 809.9L638.4 803.7L638.8 796.6L639.3 788.6L639.8 779.7L640.2 769.7L640.7 758.9L641.2 747.1L641.6 734.4L642.1 721.1L642.5 707.1L643 692.7L643.5 678.1L643.9 663.5L644.4 649L644.9 635L645.3 621.6L645.8 609.2L646.2 597.9L646.7 588.1L647.2 579.9L647.6 573.5L648.1 569.4L648.6 567.5L649 566L649.5 565.9L649.9 569.8L650.4 575.7L650.9 580.9L651.3 587.1L651.8 598.2L652.3 610.8L652.7 616.9L653.2 622.4L653.6 635.4L654.1 649L654.6 659L655 668.5L655.5 683.6L656 698.8L656.4 704.1L656.9 708.3L657.3 716.6L657.8 724.4L658.3 731L658.7 737.3L659.2 746.1L659.7 754.4L660.1 754.6L660.6 754.4L661 763.1L661.5 771.3L662 774.7L662.4 777.6L662.9 781L663.4 783.8L663.8 778.3L664.3 772.1L664.7 779L665.2 785.7" fill="none" stroke-linejoin="round" stroke="#ff00ff" stroke-width="1.4" clip-path="url(#a4)"/>
<path d="M659.7 754.4L660.1 754.6L660.6 754.4L661 763.1L661.5 771.3L662 774.7L662.4 777.6L662.9 781L663.4 783.8L663.8 778.3L664.3 772.1L664.7 779L665.2 785.7L665.7 783.6L666.1 781.3L666.6 782.5L667.1 783.8L667.5 775.1L668 766.3L668.4 766.7L668.9 767.2L669.4 766.6L669.8 766L670.3 772.7L670.8 779.7L671.2 773.1L671.7 766.6L672.1 767.8L672.6 769.1L673.1 772.8L673.5 776.6L674 777.9L674.5 779.2L674.9 763.9L675.4 748.5L675.8 761.9L676.3 775.4L676.8 772.6L677.2 769.8L677.7 770.2L678.2 770.7L678.6 765.6L679.1 760.5L679.6 768.5L680 776.5L680.5 770.4L680.9 764.3L681.4 765.9L681.9 767.5L682.3 760.2L682.8 753L683.3 765.8L683.7 778.6L684.2 773.5L684.6 768.4L685.1 765.8L685.6 763.3L686 755.9L686.5 748.5L687 755.5L687.4 762.5L687.9 763.1L688.3 763.7L688.8 760.6L689.3 757.5L689.7 763.3L690.2 769L690.7 773.1L691.1 777.1L691.6 769.5L692 762L692.5 755.3L693 748.6L693.4 751.1L693.9 753.7L694.4 761.1L694.8 768.7L695.3 761.9L695.7 755.3L696.2 752.9L696.7 750.7L697.1 760L697.6 768.9L698.1 764L698.5 759.2L699 761.7L699.4 763.3L699.9 762.3L700.4 760.1L700.8 755.2L701.3 749.6L701.8 744.8" fill="none" stroke-linejoin="round" stroke="#ff4d8c" stroke-width="2.0" clip-path="url(#s4)"/>
<path d="M696.7 750.7L697.1 760L697.6 768.9L698.1 764L698.5 759.2L699 761.7L699.4 763.3L699.9 762.3L700.4 760.1L700.8 755.2L701.3 749.6L701.8 744.8L702.2 740L702.7 734.4L703.1 730.5L703.6 730.7L704.1 732.3L704.5 733.2L705 735.9L705.5 741.5L705.9 747.4L706.4 752.4L706.8 758.1L707.3 764.9L707.8 771.8L708.2 778.8L708.7 785.9L709.2 792.5L709.6 799L710.1 805.4L710.5 811.3L711 816.6L711.5 821.2L711.9 825.3L712.4 828.7L712.9 831.6L713.3 833.8L713.8 835.7L714.2 837.1L714.7 838.1L715.2 838.9L715.6 839.5L716.1 839.9" fill="none" stroke-linejoin="round" stroke="#ff00ff" stroke-width="2.0" clip-path="url(#b4)"/>
<path d="M580.1 840.1L599.1 840.1L599.5 839.4L600 838.4L600.5 837.5L600.9 836.6L601.4 835.6L601.8 834.7L602.3 833.8L602.8 832.9L603.2 832L603.7 831.2L604.2 830.2L604.6 829.2L605.1 828.1L605.5 827.1L606 826.2L606.5 825.3L606.9 824.7L607.4 824.3L607.9 824.2L608.3 824.2L608.8 824.2L609.2 824.2L609.7 824.1L610.2 824.1L610.6 824.1L611.1 824.1L612 824.1L613.4 824.1L615.7 824.1L616.2 824.1L616.6 824.2L617.1 824.4L617.6 824.6L618 824.8L618.5 825L619 825.1L619.4 825.3L619.9 825.3L620.3 825.3L620.8 825.2L621.3 825.1L621.7 825L622.2 824.8L622.7 824.6L623.1 824.4L623.6 824.2L624 823.8L624.5 823.4L625 822.8L625.4 822.2L625.9 821.5L626.4 820.7L626.8 819.8L627.3 818.9L627.7 817.9L628.2 816.6L628.7 815.1L629.1 813.4L629.6 811.7L630.1 810.2L630.5 808.8L631 807.6L631.4 806.2L631.9 804.7L632.4 803.2L632.8 801.6L633.3 799.8L633.8 798L634.2 796.1L634.7 794.1L635.1 792.3L635.6 790.5L636.1 788.6L636.5 786.3L637 783.5L637.5 780.4" fill="none" stroke-linejoin="round" stroke="#000" stroke-width="1.9" stroke-opacity="0.92" clip-path="url(#l4)"/>
<path d="M631.9 804.7L632.4 803.2L632.8 801.6L633.3 799.8L633.8 798L634.2 796.1L634.7 794.1L635.1 792.3L635.6 790.5L636.1 788.6L636.5 786.3L637 783.5L637.5 780.4L637.9 777.7L638.4 774.9L638.8 771.2L639.3 766L639.8 758.7L640.2 749.7L640.7 739.8L641.2 729L641.6 717.4L642.1 704.8L642.5 691.6L643 677.9L643.5 664.3L643.9 651L644.4 638.1L644.9 626L645.3 614.9L645.8 605L646.2 596.4L646.7 589.4L647.2 584.2L647.6 580.7L648.1 579L648.6 579.2L649 581.6L649.5 586.1L649.9 592.6L650.4 601L650.9 611L651.3 622.4L651.8 634.9L652.3 648L652.7 661.3L653.2 674.6L653.6 687.5L654.1 700L654.6 711.8L655 722.8L655.5 732.8L656 741.4L656.4 748.6L656.9 754.5L657.3 759.3L657.8 763L658.3 766L658.7 768.5L659.2 770.2L659.7 771.1L660.1 771.3L660.6 771L661 770.3L661.5 769.4L662 768.4L662.4 767.4L662.9 766.7L663.4 766.3L663.8 766.1L664.3 765.8L664.7 765.5L665.2 765.2" fill="none" stroke-linejoin="round" stroke="#00401a" stroke-width="2.3" stroke-opacity="0.62" clip-path="url(#g4)"/>
<path d="M696.7 762.9L697.1 763L697.6 763.1L698.1 763.4L698.5 763.8L699 764.4L699.4 765.1L699.9 765.7L700.4 766.3L700.8 766.8L701.3 767.1L701.8 767.2L702.2 766.9L702.7 766.2L703.1 765.3L703.6 764.3L704.1 763.3L704.5 762.3L705 761.6L705.5 761.2L705.9 761.2L706.4 761.7L706.8 762.6L707.3 763.8L707.8 765.3L708.2 766.8L708.7 768.7L709.2 771.4L709.6 774.6L710.1 778.1L710.5 781.6L711 784.7L711.5 787.5L711.9 790.4L712.4 793.1L712.9 795.8L713.3 798.3L713.8 800.8L714.2 803.2L714.7 805.6L715.2 807.9L715.6 810L716.1 811.9L716.6 813.3L717 814.5L717.5 815.7L717.9 816.8L718.4 817.8L718.9 818.6L719.3 819.4L719.8 820.1L720.3 820.7L720.7 821.2L721.2 821.6L721.6 822L722.1 822.3L722.6 822.6L723 822.9L723.5 823.2L724 823.4L724.4 823.7L724.9 823.9L725.3 824.2L725.8 824.4L726.3 824.7L726.7 824.9L727.2 825.1L727.7 825.4L728.1 825.6L728.6 825.8L729 826L729.5 826.2L730 826.4L730.4 826.6L730.9 826.9L731.4 827.1L731.8 827.3L732.3 827.6L732.7 827.8L733.2 828.1L733.7 828.3L734.1 828.6L734.6 828.8L735.1 829.1L735.5 829.3L736 829.5L736.4 829.8L736.9 829.9L737.4 830.1L737.8 830.3L738.3 830.4L738.8 830.5L739.2 830.7L739.7 830.8L740.1 830.9L740.6 831L741.1 831.1L741.5 831.2L742 831.3L742.5 831.4L742.9 831.5L743.4 831.5L743.8 831.6L744.3 831.7L744.8 831.7L745.2 831.8L745.7 831.9L746.2 831.9L746.6 832L747.1 832L747.5 832.1L748 832.1L748.5 832.2L748.9 832.2L749.4 832.3L749.9 832.3L750.3 832.3L750.8 832.3L752.2 832.3L752.6 832.3L753.1 832.2L753.6 832.2L754 832.1L754.5 832.1L754.9 832L755.4 831.9L755.9 831.9L756.3 831.8L756.8 831.8L757.3 831.7L757.7 831.7L758.6 831.7L759.1 831.8L759.6 831.9L760 832L760.5 832.1L761 832.3L761.4 832.5L761.9 832.6L762.3 832.8L762.8 833L763.3 833.2L763.7 833.4L764.2 833.5L764.7 833.7L765.1 833.8L765.6 833.9L766 834.1L766.5 834.2L767 834.3L767.4 834.4L767.9 834.6L768.4 834.7L768.8 834.8L769.3 835L769.7 835.1L770.2 835.2L770.7 835.3L771.1 835.5L771.6 835.6L772.1 835.7L772.5 835.8L773 835.9L773.5 836L773.9 836.1L774.4 836.3L774.8 836.4L775.3 836.5L775.8 836.6L776.2 836.7L776.7 836.7L777.2 836.8L777.6 836.9L778.1 837L778.5 837.1L779 837.1L779.5 837.2L779.9 837.3L780.4 837.3L780.9 837.4L781.3 837.5L781.8 837.5L782.2 837.6L782.7 837.6L783.2 837.7L783.6 837.8L784.1 837.8L784.6 837.9L785 837.9L785.5 838L785.9 838L786.4 838.1L786.9 838.1L787.3 838.2L787.8 838.2L788.3 838.3L788.7 838.3L789.2 838.4L789.6 838.4L790.1 838.4L790.6 838.5L791 838.5L791.5 838.6L792 838.6L792.4 838.7L792.9 838.7L793.3 838.8L793.8 838.8L794.3 838.9L794.7 838.9L795.2 839L795.7 839L796.1 839.1L796.6 839.1L797 839.2L797.5 839.2L798 839.3L798.4 839.3L798.9 839.4L799.4 839.4L799.8 839.5L800.3 839.5L800.7 839.6L801.2 839.6L801.7 839.6L802.1 839.7L802.6 839.7L803.1 839.8L803.5 839.8L804 839.8L804.4 839.9L804.9 839.9L805.4 839.9L805.8 840L806.3 840L806.8 840L807.2 840L807.7 840.1L808.1 840.1L808.6 840.1L809.1 840.1L809.5 840.1L810.5 840.1L875.2 840.1L875.7 840.1L876.1 840L876.6 839.9L877.1 839.8L877.5 839.6L878 839.4L878.5 839.2L878.9 839L879.4 838.7L879.8 838.4L880.3 838L880.8 837.3L881.2 836.6L881.7 835.8L882.2 835.1L882.6 834.4L883.1 833.9L883.5 833.5L884 833.1" fill="none" stroke-linejoin="round" stroke="#000" stroke-width="1.9" stroke-opacity="0.92" clip-path="url(#b4)"/>
</g>
<path d="M580.1,841.8 L580.1,521.3 L884.2,521.3 L884.2,841.8" fill="none" stroke="#1c1c1c" stroke-width="1.5"/>
<line x1="580.1" y1="842.55" x2="884.2" y2="842.55" stroke="#6a3fa0" stroke-opacity="0.5" stroke-width="0.9"/>
<line x1="571.1" y1="841.5" x2="884.9" y2="841.5" stroke="#000" stroke-width="1.5"/>
<path d="M580.1,841.5 v9.0 M591.66,841.5 v4.0 M603.23,841.5 v4.0 M614.79,841.5 v4.0 M626.36,841.5 v4.0 M637.92,841.5 v9.0 M649.48,841.5 v4.0 M661.05,841.5 v4.0 M672.61,841.5 v4.0 M684.18,841.5 v4.0 M695.74,841.5 v9.0 M707.3,841.5 v4.0 M718.87,841.5 v4.0 M730.43,841.5 v4.0 M742,841.5 v4.0 M753.56,841.5 v9.0 M765.12,841.5 v4.0 M776.69,841.5 v4.0 M788.25,841.5 v4.0 M799.82,841.5 v4.0 M811.38,841.5 v9.0 M822.94,841.5 v4.0 M834.51,841.5 v4.0 M846.07,841.5 v4.0 M857.64,841.5 v4.0 M869.2,841.5 v9.0 M880.76,841.5 v4.0 M580.1,825.78 h-4.2 M580.1,810.16 h-4.2 M580.1,794.54 h-4.2 M580.1,778.92 h-4.2 M580.1,763.3 h-9 M580.1,747.68 h-4.2 M580.1,732.06 h-4.2 M580.1,716.44 h-4.2 M580.1,700.82 h-4.2 M580.1,685.2 h-9 M580.1,669.58 h-4.2 M580.1,653.96 h-4.2 M580.1,638.34 h-4.2 M580.1,622.72 h-4.2 M580.1,607.1 h-9 M580.1,591.48 h-4.2 M580.1,575.86 h-4.2 M580.1,560.24 h-4.2 M580.1,544.62 h-4.2 M580.1,529 h-9 " fill="none" stroke="#000" stroke-width="1.2"/>
<text transform="translate(584 873.8) scale(1.055 1.045)" font-family="'DejaVu Sans', 'Liberation Sans', sans-serif" font-size="14" font-weight="normal" fill="#2c2c2c" text-anchor="middle">0</text>
<text transform="translate(633.2 873.8) scale(1.055 1.045)" font-family="'DejaVu Sans', 'Liberation Sans', sans-serif" font-size="14" font-weight="normal" fill="#2c2c2c" text-anchor="middle">50K</text>
<text transform="translate(691.1 873.8) scale(1.055 1.045)" font-family="'DejaVu Sans', 'Liberation Sans', sans-serif" font-size="14" font-weight="normal" fill="#2c2c2c" text-anchor="middle">100K</text>
<text transform="translate(749 873.8) scale(1.055 1.045)" font-family="'DejaVu Sans', 'Liberation Sans', sans-serif" font-size="14" font-weight="normal" fill="#2c2c2c" text-anchor="middle">150K</text>
<text transform="translate(806.6 873.8) scale(1.055 1.045)" font-family="'DejaVu Sans', 'Liberation Sans', sans-serif" font-size="14" font-weight="normal" fill="#2c2c2c" text-anchor="middle">200K</text>
<text transform="translate(863.7 873.8) scale(1.055 1.045)" font-family="'DejaVu Sans', 'Liberation Sans', sans-serif" font-size="14" font-weight="normal" fill="#2c2c2c" text-anchor="middle">250K</text>
<text transform="translate(565.8 841.25) scale(1.055 1.045)" font-family="'DejaVu Sans', 'Liberation Sans', sans-serif" font-size="14" font-weight="normal" fill="#2c2c2c" text-anchor="end">0</text>
<text transform="translate(565.8 769.25) scale(1.055 1.045)" font-family="'DejaVu Sans', 'Liberation Sans', sans-serif" font-size="14" font-weight="normal" fill="#2c2c2c" text-anchor="end">50</text>
<text transform="translate(565.8 691.15) scale(1.055 1.045)" font-family="'DejaVu Sans', 'Liberation Sans', sans-serif" font-size="14" font-weight="normal" fill="#2c2c2c" text-anchor="end">100</text>
<text transform="translate(565.8 613.05) scale(1.055 1.045)" font-family="'DejaVu Sans', 'Liberation Sans', sans-serif" font-size="14" font-weight="normal" fill="#2c2c2c" text-anchor="end">150</text>
<text transform="translate(565.8 536.95) scale(1.055 1.045)" font-family="'DejaVu Sans', 'Liberation Sans', sans-serif" font-size="14" font-weight="normal" fill="#2c2c2c" text-anchor="end">200</text>
<path d="M306,890.3 h1.5 M311,890.3 h3 M316,890.3 h7 M325,890.3 h8" stroke="#777" stroke-width="0.9" fill="none"/>
<path d="M717.5,890.6 h1.5 M721,890.6 h2 M725,890.6 h2.5 M731,890.6 h1.5 M739,890.6 h2 M743,890.6 h3" stroke="#777" stroke-width="0.9" fill="none"/>
<text transform="translate(335.4 42.3) scale(0.92 1.0)" font-family="'Liberation Sans', Arial, Helvetica, sans-serif" font-size="30.3" font-weight="normal" fill="#000" text-anchor="middle">Control</text>
<text transform="translate(743.6 42.3) scale(0.935 1.0)" font-family="'Liberation Sans', Arial, Helvetica, sans-serif" font-size="30.3" font-weight="normal" fill="#000" text-anchor="middle">25 µM</text>
<text transform="translate(327.3 493.3) scale(0.935 1.0)" font-family="'Liberation Sans', Arial, Helvetica, sans-serif" font-size="30.3" font-weight="normal" fill="#000" text-anchor="middle">50 µM</text>
<text transform="translate(722.5 498.4) scale(0.935 1.0)" font-family="'Liberation Sans', Arial, Helvetica, sans-serif" font-size="30.3" font-weight="normal" fill="#000" text-anchor="middle">75 µM</text>
<text transform="translate(31.4 72) scale(0.905 1.0)" font-family="'Liberation Sans', Arial, Helvetica, sans-serif" font-size="33.7" font-weight="bold" fill="#000" text-anchor="start">b)</text>
<text transform="translate(48 592.5) rotate(-90) scale(0.993 1.0)" font-family="'Liberation Sans', Arial, Helvetica, sans-serif" font-size="37.5" font-weight="normal" fill="#000" text-anchor="middle">Cell count</text>
<text transform="translate(212.4 983.8) scale(1.07 1.0)" font-family="'Liberation Sans', Arial, Helvetica, sans-serif" font-size="38" font-weight="normal" fill="#000" text-anchor="start">PI</text>
<path d="M96.2,906 V202" stroke="#000" stroke-width="2" fill="none"/>
<path d="M84.7,221 L96.1,201.8 L107.4,221" stroke="#000" stroke-width="1.6" fill="none"/>
<path d="M95.2,905.5 H799.4" stroke="#000" stroke-width="1.6" fill="none"/>
<path d="M781,894.3 L800,905.5 L781,916.6" stroke="#000" stroke-width="1.6" fill="none"/>
<rect x="1072.4" y="179.3" width="10" height="6.4" fill="#2e2e2e"/>
<rect x="1072.4" y="301.2" width="10" height="6.4" fill="#2e2e2e"/>
<rect x="1072.4" y="423.2" width="10" height="6.4" fill="#2e2e2e"/>
<rect x="1072.4" y="545.1" width="10" height="6.4" fill="#2e2e2e"/>
<text transform="translate(1069.4 193.8) scale(0.82 1.0)" font-family="'Liberation Sans', Arial, Helvetica, sans-serif" font-size="34.6" font-weight="bold" fill="#2e2e2e" text-anchor="end">80</text>
<text transform="translate(1069.4 315.7) scale(0.82 1.0)" font-family="'Liberation Sans', Arial, Helvetica, sans-serif" font-size="34.6" font-weight="bold" fill="#2e2e2e" text-anchor="end">60</text>
<text transform="translate(1069.4 437.7) scale(0.82 1.0)" font-family="'Liberation Sans', Arial, Helvetica, sans-serif" font-size="34.6" font-weight="bold" fill="#2e2e2e" text-anchor="end">40</text>
<text transform="translate(1069.4 559.6) scale(0.82 1.0)" font-family="'Liberation Sans', Arial, Helvetica, sans-serif" font-size="34.6" font-weight="bold" fill="#2e2e2e" text-anchor="end">20</text>
<text transform="translate(1069.4 681.5) scale(0.82 1.0)" font-family="'Liberation Sans', Arial, Helvetica, sans-serif" font-size="34.6" font-weight="bold" fill="#2e2e2e" text-anchor="end">0</text>
<rect x="1159.3" y="670" width="6.2" height="12.9" fill="#2e2e2e"/>
<rect x="1316.6" y="670" width="6.2" height="12.9" fill="#2e2e2e"/>
<rect x="1473.9" y="670" width="6.2" height="12.9" fill="#2e2e2e"/>
<rect x="1631.3" y="670" width="6.2" height="12.9" fill="#2e2e2e"/>
<line x1="1111.95" y1="641.5" x2="1111.95" y2="653" stroke="#000" stroke-width="4.5"/>
<rect x="1104.5" y="639.1" width="15.6" height="4.8" rx="2.1" fill="#000"/>
<rect x="1100.6" y="651" width="22.4" height="17" fill="#000"/>
<rect x="1107.2" y="658.4" width="9.4" height="9.6" fill="#fff"/>
<line x1="1145.6" y1="302.4" x2="1145.6" y2="307.3" stroke="#1f9305" stroke-width="4.5"/>
<rect x="1138.15" y="300" width="15.6" height="4.8" rx="2.1" fill="#1f9305"/>
<rect x="1134.2" y="305.3" width="22.5" height="362.7" fill="#1f9305"/>
<rect x="1140.8" y="312.7" width="9.5" height="355.3" fill="#b2e082"/>
<line x1="1179.5" y1="499.3" x2="1179.5" y2="506.8" stroke="#e2d661" stroke-width="4.5"/>
<rect x="1172.05" y="496.9" width="15.6" height="4.8" rx="2.1" fill="#e2d661"/>
<rect x="1167.9" y="504.8" width="22.9" height="163.2" fill="#e2d661"/>
<line x1="1213.35" y1="595.9" x2="1213.35" y2="609.1" stroke="#00ffff" stroke-width="4.5"/>
<rect x="1205.9" y="593.5" width="15.6" height="4.8" rx="2.1" fill="#00ffff"/>
<rect x="1201.8" y="607.1" width="22.8" height="60.9" fill="#00ffff"/>
<line x1="1269.6" y1="624.7" x2="1269.6" y2="637.2" stroke="#000" stroke-width="4.5"/>
<rect x="1262.15" y="622.3" width="15.6" height="4.8" rx="2.1" fill="#000"/>
<rect x="1258.1" y="635.2" width="22.7" height="32.8" fill="#000"/>
<rect x="1264.7" y="642.6" width="9.7" height="25.4" fill="#fff"/>
<line x1="1303.15" y1="336.7" x2="1303.15" y2="396.9" stroke="#1f9305" stroke-width="4.5"/>
<rect x="1295.7" y="334.3" width="15.6" height="4.8" rx="2.1" fill="#1f9305"/>
<rect x="1291.8" y="394.9" width="22.4" height="273.1" fill="#1f9305"/>
<rect x="1298.4" y="402.3" width="9.4" height="265.7" fill="#b2e082"/>
<line x1="1337.25" y1="405.7" x2="1337.25" y2="438.2" stroke="#e2d661" stroke-width="4.5"/>
<rect x="1329.8" y="403.3" width="15.6" height="4.8" rx="2.1" fill="#e2d661"/>
<rect x="1325.9" y="436.2" width="22.4" height="231.8" fill="#e2d661"/>
<line x1="1370.8" y1="568.3" x2="1370.8" y2="593.5" stroke="#00ffff" stroke-width="4.5"/>
<rect x="1363.35" y="565.9" width="15.6" height="4.8" rx="2.1" fill="#00ffff"/>
<rect x="1359.3" y="591.5" width="22.7" height="76.5" fill="#00ffff"/>
<line x1="1426.95" y1="617.7" x2="1426.95" y2="627" stroke="#000" stroke-width="4.5"/>
<rect x="1419.5" y="615.3" width="15.6" height="4.8" rx="2.1" fill="#000"/>
<rect x="1415.8" y="625" width="22" height="43" fill="#000"/>
<rect x="1422.4" y="632.4" width="9" height="35.6" fill="#fff"/>
<line x1="1460.6" y1="303.2" x2="1460.6" y2="330.1" stroke="#1f9305" stroke-width="4.5"/>
<rect x="1453.15" y="300.8" width="15.6" height="4.8" rx="2.1" fill="#1f9305"/>
<rect x="1449.2" y="328.1" width="22.5" height="339.9" fill="#1f9305"/>
<rect x="1455.8" y="335.5" width="9.5" height="332.5" fill="#b2e082"/>
<line x1="1494.4" y1="462.4" x2="1494.4" y2="494.1" stroke="#e2d661" stroke-width="4.5"/>
<rect x="1486.95" y="460" width="15.6" height="4.8" rx="2.1" fill="#e2d661"/>
<rect x="1482.9" y="492.1" width="22.7" height="175.9" fill="#e2d661"/>
<line x1="1528.25" y1="596.5" x2="1528.25" y2="605.3" stroke="#00ffff" stroke-width="4.5"/>
<rect x="1520.8" y="594.1" width="15.6" height="4.8" rx="2.1" fill="#00ffff"/>
<rect x="1516.8" y="603.3" width="22.6" height="64.7" fill="#00ffff"/>
<line x1="1584.2" y1="617.8" x2="1584.2" y2="635.1" stroke="#000" stroke-width="4.5"/>
<rect x="1576.75" y="615.4" width="15.6" height="4.8" rx="2.1" fill="#000"/>
<rect x="1573.1" y="633.1" width="21.9" height="34.9" fill="#000"/>
<rect x="1579.7" y="640.5" width="8.9" height="27.5" fill="#fff"/>
<line x1="1618.35" y1="314.7" x2="1618.35" y2="368.9" stroke="#1f9305" stroke-width="4.5"/>
<rect x="1610.9" y="312.3" width="15.6" height="4.8" rx="2.1" fill="#1f9305"/>
<rect x="1606.8" y="366.9" width="22.8" height="301.1" fill="#1f9305"/>
<rect x="1613.4" y="374.3" width="9.8" height="293.7" fill="#b2e082"/>
<line x1="1652.05" y1="435.6" x2="1652.05" y2="455.1" stroke="#e2d661" stroke-width="4.5"/>
<rect x="1644.6" y="433.2" width="15.6" height="4.8" rx="2.1" fill="#e2d661"/>
<rect x="1640.7" y="453.1" width="22.4" height="214.9" fill="#e2d661"/>
<line x1="1686.1" y1="611.5" x2="1686.1" y2="619.5" stroke="#00ffff" stroke-width="4.5"/>
<rect x="1678.65" y="609.1" width="15.6" height="4.8" rx="2.1" fill="#00ffff"/>
<rect x="1674.9" y="617.5" width="22.1" height="50.5" fill="#00ffff"/>
<rect x="1081" y="179.3" width="6.05" height="494.4" fill="#2e2e2e"/>
<rect x="1072.4" y="667.15" width="642.7" height="6.55" fill="#2e2e2e"/>
<text transform="translate(1169.2 712.8) rotate(-45) scale(0.9 1.0)" font-family="'Liberation Sans', Arial, Helvetica, sans-serif" font-size="32.9" font-weight="bold" fill="#2e2e2e" text-anchor="end" stroke="#2e2e2e" stroke-width="0.7" stroke-linejoin="round">0</text>
<text transform="translate(1327 712.4) rotate(-48) scale(0.9 1.0)" font-family="'Liberation Sans', Arial, Helvetica, sans-serif" font-size="32.9" font-weight="bold" fill="#2e2e2e" text-anchor="end" letter-spacing="0.6" stroke="#2e2e2e" stroke-width="0.7" stroke-linejoin="round">25</text>
<text transform="translate(1484.3 712.4) rotate(-48) scale(0.9 1.0)" font-family="'Liberation Sans', Arial, Helvetica, sans-serif" font-size="32.9" font-weight="bold" fill="#2e2e2e" text-anchor="end" letter-spacing="0.6" stroke="#2e2e2e" stroke-width="0.7" stroke-linejoin="round">50</text>
<text transform="translate(1641.7 712.4) rotate(-48) scale(0.9 1.0)" font-family="'Liberation Sans', Arial, Helvetica, sans-serif" font-size="32.9" font-weight="bold" fill="#2e2e2e" text-anchor="end" letter-spacing="0.6" stroke="#2e2e2e" stroke-width="0.7" stroke-linejoin="round">75</text>
<text transform="translate(974.7 428.2) rotate(-90) scale(0.79 1.0)" font-family="'Liberation Sans', Arial, Helvetica, sans-serif" font-size="36" font-weight="bold" fill="#2e2e2e" text-anchor="middle" letter-spacing="2.4">% Cells</text>
<text transform="translate(1384 823.6) scale(0.775 1.0)" font-family="'Liberation Sans', Arial, Helvetica, sans-serif" font-size="36.5" font-weight="bold" fill="#2e2e2e" text-anchor="middle">ΔM4 (µM)</text>
<rect x="1755.9" y="198.1" width="51.2" height="35.3" fill="#000"/>
<rect x="1761.8" y="205.5" width="38.5" height="20.3" fill="#fff"/>
<text transform="translate(1829 229.3) scale(0.823 1.0)" font-family="'Liberation Sans', Arial, Helvetica, sans-serif" font-size="42" font-weight="normal" fill="#000" text-anchor="start">Sub-G1</text>
<rect x="1755.9" y="255.2" width="51.2" height="35.3" fill="#1f9305"/>
<rect x="1761.8" y="262.6" width="38.5" height="20.3" fill="#b2e082"/>
<text transform="translate(1829 286.5) scale(0.823 1.0)" font-family="'Liberation Sans', Arial, Helvetica, sans-serif" font-size="42" font-weight="normal" fill="#1f9305" text-anchor="start">G1</text>
<rect x="1755.9" y="313.1" width="51.2" height="35.3" fill="#e2d661"/>
<text transform="translate(1829 344.1) scale(0.823 1.0)" font-family="'Liberation Sans', Arial, Helvetica, sans-serif" font-size="42" font-weight="normal" fill="#e2d661" text-anchor="start">S</text>
<rect x="1755.9" y="370.1" width="51.2" height="35.3" fill="#00ffff"/>
<text transform="translate(1829 401.6) scale(0.823 1.0)" font-family="'Liberation Sans', Arial, Helvetica, sans-serif" font-size="42" font-weight="normal" fill="#00ffff" text-anchor="start">G2/M</text>
</svg>
</body></html>
